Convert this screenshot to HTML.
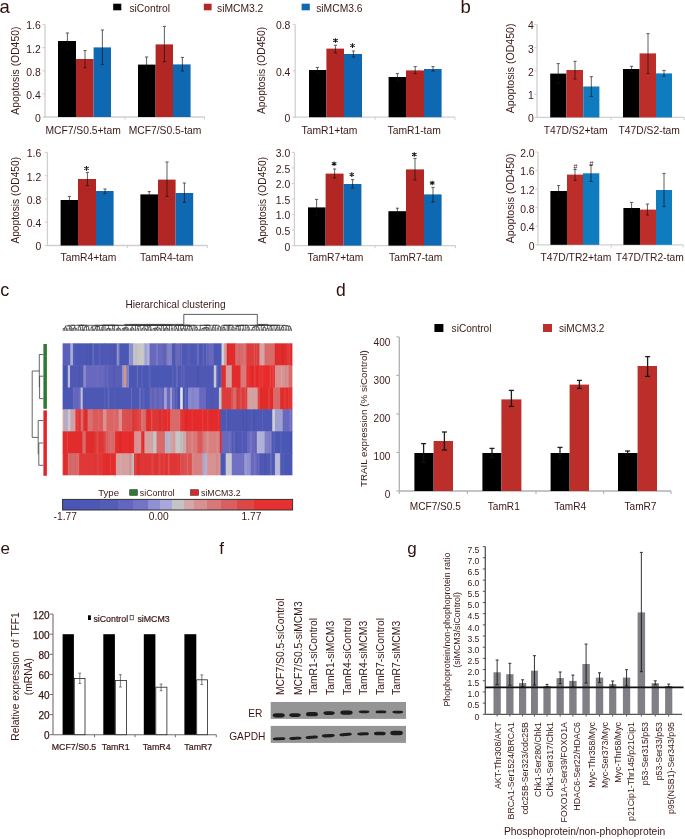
<!DOCTYPE html><html><head><meta charset="utf-8"><style>html,body{margin:0;padding:0;background:#fff;}svg{display:block;will-change:transform;font-family:"Liberation Sans",sans-serif;}</style></head><body><svg width="685" height="839" viewBox="0 0 685 839" font-family="Liberation Sans, sans-serif">
<rect width="685" height="839" fill="#fff"/>
<text x="-0.6" y="12.8" font-size="18.5" text-anchor="start" fill="#2e100c">a</text>
<text x="460.6" y="12.9" font-size="18.5" text-anchor="start" fill="#2e100c">b</text>
<rect x="113.2" y="3.7" width="8.1" height="6.6" fill="#000000"/>
<text x="129.4" y="11.5" font-size="10.3" text-anchor="start" fill="#3a1814">siControl</text>
<rect x="203.8" y="3.7" width="7.8" height="6.6" fill="#b22624"/>
<text x="217" y="11.5" font-size="10.3" text-anchor="start" fill="#3a1814">siMCM3.2</text>
<rect x="301.6" y="3.7" width="8.2" height="6.6" fill="#0e69b2"/>
<text x="316.2" y="11.5" font-size="10.3" text-anchor="start" fill="#3a1814">siMCM3.6</text>
<line x1="45" y1="24.5" x2="45" y2="117.5" stroke="#d0d0d0" stroke-width="1.3"/>
<line x1="44.5" y1="117" x2="204.5" y2="117" stroke="#d0d0d0" stroke-width="1.3"/>
<line x1="42.4" y1="24.5" x2="45" y2="24.5" stroke="#d0d0d0" stroke-width="1.1"/>
<text x="40.8" y="29.4" font-size="10.4" text-anchor="end" fill="#3a1814">1.6</text>
<line x1="42.4" y1="47.62" x2="45" y2="47.62" stroke="#d0d0d0" stroke-width="1.1"/>
<text x="40.8" y="52.52" font-size="10.4" text-anchor="end" fill="#3a1814">1.2</text>
<line x1="42.4" y1="70.75" x2="45" y2="70.75" stroke="#d0d0d0" stroke-width="1.1"/>
<text x="40.8" y="75.65" font-size="10.4" text-anchor="end" fill="#3a1814">0.8</text>
<line x1="42.4" y1="93.88" x2="45" y2="93.88" stroke="#d0d0d0" stroke-width="1.1"/>
<text x="40.8" y="98.78" font-size="10.4" text-anchor="end" fill="#3a1814">0.4</text>
<line x1="42.4" y1="117" x2="45" y2="117" stroke="#d0d0d0" stroke-width="1.1"/>
<text x="40.8" y="121.9" font-size="10.4" text-anchor="end" fill="#3a1814">0</text>
<line x1="125" y1="117" x2="125" y2="119.6" stroke="#d0d0d0" stroke-width="1.1"/>
<line x1="204.5" y1="117" x2="204.5" y2="119.6" stroke="#d0d0d0" stroke-width="1.1"/>
<rect x="58" y="41" width="18" height="76" fill="#000000"/>
<rect x="76" y="59" width="17.6" height="58" fill="#b22624"/>
<rect x="93.6" y="47.4" width="17.4" height="69.6" fill="#0e69b2"/>
<rect x="138" y="64.6" width="17.6" height="52.4" fill="#000000"/>
<rect x="155.6" y="44.4" width="17.4" height="72.6" fill="#b22624"/>
<rect x="173" y="64.4" width="17.6" height="52.6" fill="#0e69b2"/>
<g stroke="#111" stroke-width="0.9" opacity="0.75">
<line x1="67.4" y1="33" x2="67.4" y2="49"/>
<line x1="65.8" y1="33" x2="69" y2="33"/>
<line x1="65.8" y1="49" x2="69" y2="49"/>
</g>
<g stroke="#111" stroke-width="0.9" opacity="0.75">
<line x1="85" y1="50.6" x2="85" y2="67.6"/>
<line x1="83.4" y1="50.6" x2="86.6" y2="50.6"/>
<line x1="83.4" y1="67.6" x2="86.6" y2="67.6"/>
</g>
<g stroke="#111" stroke-width="0.9" opacity="0.75">
<line x1="102.4" y1="30" x2="102.4" y2="64.6"/>
<line x1="100.8" y1="30" x2="104" y2="30"/>
<line x1="100.8" y1="64.6" x2="104" y2="64.6"/>
</g>
<g stroke="#111" stroke-width="0.9" opacity="0.75">
<line x1="146.6" y1="57" x2="146.6" y2="72"/>
<line x1="145" y1="57" x2="148.2" y2="57"/>
<line x1="145" y1="72" x2="148.2" y2="72"/>
</g>
<g stroke="#111" stroke-width="0.9" opacity="0.75">
<line x1="164.4" y1="26.4" x2="164.4" y2="61.6"/>
<line x1="162.8" y1="26.4" x2="166" y2="26.4"/>
<line x1="162.8" y1="61.6" x2="166" y2="61.6"/>
</g>
<g stroke="#111" stroke-width="0.9" opacity="0.75">
<line x1="182.4" y1="57.4" x2="182.4" y2="71"/>
<line x1="180.8" y1="57.4" x2="184" y2="57.4"/>
<line x1="180.8" y1="71" x2="184" y2="71"/>
</g>
<text x="83.1" y="133.6" font-size="10.3" text-anchor="middle" fill="#3a1814">MCF7/S0.5+tam</text>
<text x="165" y="133.6" font-size="10.3" text-anchor="middle" fill="#3a1814">MCF7/S0.5-tam</text>
<text transform="translate(18.6 70.7) rotate(-90)" font-size="10.37" text-anchor="middle" fill="#3a1814">Apoptosis (OD450)</text>
<line x1="295.2" y1="24.4" x2="295.2" y2="117.7" stroke="#d0d0d0" stroke-width="1.3"/>
<line x1="294.7" y1="117.2" x2="455" y2="117.2" stroke="#d0d0d0" stroke-width="1.3"/>
<line x1="292.6" y1="24.4" x2="295.2" y2="24.4" stroke="#d0d0d0" stroke-width="1.1"/>
<text x="290.4" y="29.3" font-size="10.4" text-anchor="end" fill="#3a1814">0.8</text>
<line x1="292.6" y1="70.8" x2="295.2" y2="70.8" stroke="#d0d0d0" stroke-width="1.1"/>
<text x="290.4" y="75.7" font-size="10.4" text-anchor="end" fill="#3a1814">0.4</text>
<line x1="292.6" y1="117.2" x2="295.2" y2="117.2" stroke="#d0d0d0" stroke-width="1.1"/>
<text x="290.4" y="122.1" font-size="10.4" text-anchor="end" fill="#3a1814">0</text>
<line x1="375.2" y1="117.2" x2="375.2" y2="119.8" stroke="#d0d0d0" stroke-width="1.1"/>
<line x1="455" y1="117.2" x2="455" y2="119.8" stroke="#d0d0d0" stroke-width="1.1"/>
<rect x="309" y="70" width="17.4" height="47.2" fill="#000000"/>
<rect x="326.4" y="48.6" width="17.6" height="68.6" fill="#b22624"/>
<rect x="344" y="54" width="18" height="63.2" fill="#0e69b2"/>
<rect x="388.6" y="77" width="17.4" height="40.2" fill="#000000"/>
<rect x="406" y="70.4" width="18" height="46.8" fill="#b22624"/>
<rect x="424" y="69" width="17.6" height="48.2" fill="#0e69b2"/>
<g stroke="#111" stroke-width="0.9" opacity="0.75">
<line x1="317.4" y1="67.4" x2="317.4" y2="72.6"/>
<line x1="315.8" y1="67.4" x2="319" y2="67.4"/>
<line x1="315.8" y1="72.6" x2="319" y2="72.6"/>
</g>
<g stroke="#111" stroke-width="0.9" opacity="0.75">
<line x1="335.4" y1="45.2" x2="335.4" y2="52.8"/>
<line x1="333.8" y1="45.2" x2="337" y2="45.2"/>
<line x1="333.8" y1="52.8" x2="337" y2="52.8"/>
</g>
<g stroke="#111" stroke-width="0.9" opacity="0.75">
<line x1="353.4" y1="51" x2="353.4" y2="57"/>
<line x1="351.8" y1="51" x2="355" y2="51"/>
<line x1="351.8" y1="57" x2="355" y2="57"/>
</g>
<g stroke="#111" stroke-width="0.9" opacity="0.75">
<line x1="397.4" y1="73.6" x2="397.4" y2="80.4"/>
<line x1="395.8" y1="73.6" x2="399" y2="73.6"/>
<line x1="395.8" y1="80.4" x2="399" y2="80.4"/>
</g>
<g stroke="#111" stroke-width="0.9" opacity="0.75">
<line x1="415.2" y1="66.6" x2="415.2" y2="73.6"/>
<line x1="413.6" y1="66.6" x2="416.8" y2="66.6"/>
<line x1="413.6" y1="73.6" x2="416.8" y2="73.6"/>
</g>
<g stroke="#111" stroke-width="0.9" opacity="0.75">
<line x1="433" y1="66.6" x2="433" y2="71"/>
<line x1="431.4" y1="66.6" x2="434.6" y2="66.6"/>
<line x1="431.4" y1="71" x2="434.6" y2="71"/>
</g>
<text x="329.5" y="133.6" font-size="10.3" text-anchor="middle" fill="#3a1814">TamR1+tam</text>
<text x="414.2" y="133.6" font-size="10.3" text-anchor="middle" fill="#3a1814">TamR1-tam</text>
<text transform="translate(265.3 70.4) rotate(-90)" font-size="10.25" text-anchor="middle" fill="#3a1814">Apoptosis (OD450)</text>
<path d="M335.5 38.2V42.8M333.25 39.23L337.75 41.77M333.25 41.77L337.75 39.23" stroke="#151515" stroke-width="1.05" fill="none"/>
<path d="M352.5 43.3V47.9M350.25 44.34L354.75 46.87M350.25 46.87L354.75 44.34" stroke="#151515" stroke-width="1.05" fill="none"/>
<line x1="537" y1="24.4" x2="537" y2="117.9" stroke="#d0d0d0" stroke-width="1.3"/>
<line x1="536.5" y1="117.4" x2="684" y2="117.4" stroke="#d0d0d0" stroke-width="1.3"/>
<line x1="534.4" y1="24.4" x2="537" y2="24.4" stroke="#d0d0d0" stroke-width="1.1"/>
<text x="533.8" y="29.3" font-size="10.4" text-anchor="end" fill="#3a1814">4</text>
<line x1="534.4" y1="47.65" x2="537" y2="47.65" stroke="#d0d0d0" stroke-width="1.1"/>
<text x="533.8" y="52.55" font-size="10.4" text-anchor="end" fill="#3a1814">3</text>
<line x1="534.4" y1="70.9" x2="537" y2="70.9" stroke="#d0d0d0" stroke-width="1.1"/>
<text x="533.8" y="75.8" font-size="10.4" text-anchor="end" fill="#3a1814">2</text>
<line x1="534.4" y1="94.15" x2="537" y2="94.15" stroke="#d0d0d0" stroke-width="1.1"/>
<text x="533.8" y="99.05" font-size="10.4" text-anchor="end" fill="#3a1814">1</text>
<line x1="534.4" y1="117.4" x2="537" y2="117.4" stroke="#d0d0d0" stroke-width="1.1"/>
<text x="533.8" y="122.3" font-size="10.4" text-anchor="end" fill="#3a1814">0</text>
<line x1="611" y1="117.4" x2="611" y2="120" stroke="#d0d0d0" stroke-width="1.1"/>
<line x1="684" y1="117.4" x2="684" y2="120" stroke="#d0d0d0" stroke-width="1.1"/>
<rect x="550.2" y="73.6" width="16.2" height="43.8" fill="#000000"/>
<rect x="566.4" y="70" width="16.6" height="47.4" fill="#bd2e2a"/>
<rect x="583.2" y="86.5" width="16.2" height="30.9" fill="#0f7cc0"/>
<rect x="623" y="69" width="16.6" height="48.4" fill="#000000"/>
<rect x="639.6" y="53.4" width="16.4" height="64" fill="#bd2e2a"/>
<rect x="656" y="73.4" width="16" height="44" fill="#0f7cc0"/>
<g stroke="#111" stroke-width="0.9" opacity="0.75">
<line x1="558.2" y1="63.6" x2="558.2" y2="83.6"/>
<line x1="556.6" y1="63.6" x2="559.8" y2="63.6"/>
<line x1="556.6" y1="83.6" x2="559.8" y2="83.6"/>
</g>
<g stroke="#111" stroke-width="0.9" opacity="0.75">
<line x1="575" y1="61.3" x2="575" y2="79"/>
<line x1="573.4" y1="61.3" x2="576.6" y2="61.3"/>
<line x1="573.4" y1="79" x2="576.6" y2="79"/>
</g>
<g stroke="#111" stroke-width="0.9" opacity="0.75">
<line x1="591.3" y1="76.7" x2="591.3" y2="96.5"/>
<line x1="589.7" y1="76.7" x2="592.9" y2="76.7"/>
<line x1="589.7" y1="96.5" x2="592.9" y2="96.5"/>
</g>
<g stroke="#111" stroke-width="0.9" opacity="0.75">
<line x1="631.6" y1="66.3" x2="631.6" y2="72"/>
<line x1="630" y1="66.3" x2="633.2" y2="66.3"/>
<line x1="630" y1="72" x2="633.2" y2="72"/>
</g>
<g stroke="#111" stroke-width="0.9" opacity="0.75">
<line x1="648" y1="33.6" x2="648" y2="73.4"/>
<line x1="646.4" y1="33.6" x2="649.6" y2="33.6"/>
<line x1="646.4" y1="73.4" x2="649.6" y2="73.4"/>
</g>
<g stroke="#111" stroke-width="0.9" opacity="0.75">
<line x1="664" y1="70.4" x2="664" y2="76.2"/>
<line x1="662.4" y1="70.4" x2="665.6" y2="70.4"/>
<line x1="662.4" y1="76.2" x2="665.6" y2="76.2"/>
</g>
<text x="575.7" y="133.6" font-size="10.3" text-anchor="middle" fill="#3a1814">T47D/S2+tam</text>
<text x="649.2" y="133.6" font-size="10.3" text-anchor="middle" fill="#3a1814">T47D/S2-tam</text>
<text transform="translate(513.7 68.4) rotate(-90)" font-size="10.56" text-anchor="middle" fill="#3a1814">Apoptosis (OD450)</text>
<line x1="47.4" y1="152.4" x2="47.4" y2="246" stroke="#d0d0d0" stroke-width="1.3"/>
<line x1="46.9" y1="245.5" x2="207.4" y2="245.5" stroke="#d0d0d0" stroke-width="1.3"/>
<line x1="44.8" y1="152.4" x2="47.4" y2="152.4" stroke="#d0d0d0" stroke-width="1.1"/>
<text x="41.2" y="157.3" font-size="10.4" text-anchor="end" fill="#3a1814">1.6</text>
<line x1="44.8" y1="175.68" x2="47.4" y2="175.68" stroke="#d0d0d0" stroke-width="1.1"/>
<text x="41.2" y="180.58" font-size="10.4" text-anchor="end" fill="#3a1814">1.2</text>
<line x1="44.8" y1="198.95" x2="47.4" y2="198.95" stroke="#d0d0d0" stroke-width="1.1"/>
<text x="41.2" y="203.85" font-size="10.4" text-anchor="end" fill="#3a1814">0.8</text>
<line x1="44.8" y1="222.22" x2="47.4" y2="222.22" stroke="#d0d0d0" stroke-width="1.1"/>
<text x="41.2" y="227.12" font-size="10.4" text-anchor="end" fill="#3a1814">0.4</text>
<line x1="44.8" y1="245.5" x2="47.4" y2="245.5" stroke="#d0d0d0" stroke-width="1.1"/>
<text x="41.2" y="250.4" font-size="10.4" text-anchor="end" fill="#3a1814">0</text>
<line x1="127.4" y1="245.5" x2="127.4" y2="248.1" stroke="#d0d0d0" stroke-width="1.1"/>
<line x1="207.4" y1="245.5" x2="207.4" y2="248.1" stroke="#d0d0d0" stroke-width="1.1"/>
<rect x="60.6" y="200" width="17.4" height="45.5" fill="#000000"/>
<rect x="78" y="179" width="18" height="66.5" fill="#b22624"/>
<rect x="96" y="191" width="17.6" height="54.5" fill="#0e69b2"/>
<rect x="140.4" y="194.4" width="17.6" height="51.1" fill="#000000"/>
<rect x="158" y="179.6" width="17.6" height="65.9" fill="#b22624"/>
<rect x="175.6" y="193" width="17.6" height="52.5" fill="#0e69b2"/>
<g stroke="#111" stroke-width="0.9" opacity="0.75">
<line x1="69.4" y1="196.4" x2="69.4" y2="203.6"/>
<line x1="67.8" y1="196.4" x2="71" y2="196.4"/>
<line x1="67.8" y1="203.6" x2="71" y2="203.6"/>
</g>
<g stroke="#111" stroke-width="0.9" opacity="0.75">
<line x1="87.4" y1="172.4" x2="87.4" y2="185.6"/>
<line x1="85.8" y1="172.4" x2="89" y2="172.4"/>
<line x1="85.8" y1="185.6" x2="89" y2="185.6"/>
</g>
<g stroke="#111" stroke-width="0.9" opacity="0.75">
<line x1="105" y1="189" x2="105" y2="193.6"/>
<line x1="103.4" y1="189" x2="106.6" y2="189"/>
<line x1="103.4" y1="193.6" x2="106.6" y2="193.6"/>
</g>
<g stroke="#111" stroke-width="0.9" opacity="0.75">
<line x1="149.2" y1="191.6" x2="149.2" y2="197"/>
<line x1="147.6" y1="191.6" x2="150.8" y2="191.6"/>
<line x1="147.6" y1="197" x2="150.8" y2="197"/>
</g>
<g stroke="#111" stroke-width="0.9" opacity="0.75">
<line x1="167" y1="162" x2="167" y2="196.4"/>
<line x1="165.4" y1="162" x2="168.6" y2="162"/>
<line x1="165.4" y1="196.4" x2="168.6" y2="196.4"/>
</g>
<g stroke="#111" stroke-width="0.9" opacity="0.75">
<line x1="184.4" y1="183" x2="184.4" y2="202.4"/>
<line x1="182.8" y1="183" x2="186" y2="183"/>
<line x1="182.8" y1="202.4" x2="186" y2="202.4"/>
</g>
<text x="88.5" y="260.6" font-size="10.3" text-anchor="middle" fill="#3a1814">TamR4+tam</text>
<text x="166.7" y="260.6" font-size="10.3" text-anchor="middle" fill="#3a1814">TamR4-tam</text>
<text transform="translate(18.6 200.3) rotate(-90)" font-size="10.2" text-anchor="middle" fill="#3a1814">Apoptosis (OD450)</text>
<path d="M86.5 166.1V170.7M84.25 167.14L88.75 169.66M84.25 169.66L88.75 167.14" stroke="#151515" stroke-width="1.05" fill="none"/>
<line x1="294.4" y1="152.4" x2="294.4" y2="246.1" stroke="#d0d0d0" stroke-width="1.3"/>
<line x1="293.9" y1="245.6" x2="455.4" y2="245.6" stroke="#d0d0d0" stroke-width="1.3"/>
<line x1="291.8" y1="152.4" x2="294.4" y2="152.4" stroke="#d0d0d0" stroke-width="1.1"/>
<text x="290.2" y="157.3" font-size="10.4" text-anchor="end" fill="#3a1814">3.0</text>
<line x1="291.8" y1="167.93" x2="294.4" y2="167.93" stroke="#d0d0d0" stroke-width="1.1"/>
<text x="290.2" y="172.83" font-size="10.4" text-anchor="end" fill="#3a1814">2.5</text>
<line x1="291.8" y1="183.47" x2="294.4" y2="183.47" stroke="#d0d0d0" stroke-width="1.1"/>
<text x="290.2" y="188.37" font-size="10.4" text-anchor="end" fill="#3a1814">2.0</text>
<line x1="291.8" y1="199" x2="294.4" y2="199" stroke="#d0d0d0" stroke-width="1.1"/>
<text x="290.2" y="203.9" font-size="10.4" text-anchor="end" fill="#3a1814">1.5</text>
<line x1="291.8" y1="214.53" x2="294.4" y2="214.53" stroke="#d0d0d0" stroke-width="1.1"/>
<text x="290.2" y="219.43" font-size="10.4" text-anchor="end" fill="#3a1814">1.0</text>
<line x1="291.8" y1="230.07" x2="294.4" y2="230.07" stroke="#d0d0d0" stroke-width="1.1"/>
<text x="290.2" y="234.97" font-size="10.4" text-anchor="end" fill="#3a1814">0.5</text>
<line x1="291.8" y1="245.6" x2="294.4" y2="245.6" stroke="#d0d0d0" stroke-width="1.1"/>
<text x="290.2" y="250.5" font-size="10.4" text-anchor="end" fill="#3a1814">0</text>
<line x1="375" y1="245.6" x2="375" y2="248.2" stroke="#d0d0d0" stroke-width="1.1"/>
<line x1="455.4" y1="245.6" x2="455.4" y2="248.2" stroke="#d0d0d0" stroke-width="1.1"/>
<rect x="308" y="207.4" width="17.6" height="38.2" fill="#000000"/>
<rect x="325.6" y="173.6" width="18" height="72" fill="#b22624"/>
<rect x="343.6" y="184" width="17.8" height="61.6" fill="#0e69b2"/>
<rect x="388.4" y="211.2" width="17.6" height="34.4" fill="#000000"/>
<rect x="406" y="169.4" width="18" height="76.2" fill="#b22624"/>
<rect x="424" y="194.4" width="17.6" height="51.2" fill="#0e69b2"/>
<g stroke="#111" stroke-width="0.9" opacity="0.75">
<line x1="316.6" y1="199.4" x2="316.6" y2="215.4"/>
<line x1="315" y1="199.4" x2="318.2" y2="199.4"/>
<line x1="315" y1="215.4" x2="318.2" y2="215.4"/>
</g>
<g stroke="#111" stroke-width="0.9" opacity="0.75">
<line x1="334.6" y1="169" x2="334.6" y2="178"/>
<line x1="333" y1="169" x2="336.2" y2="169"/>
<line x1="333" y1="178" x2="336.2" y2="178"/>
</g>
<g stroke="#111" stroke-width="0.9" opacity="0.75">
<line x1="352.6" y1="179.6" x2="352.6" y2="188"/>
<line x1="351" y1="179.6" x2="354.2" y2="179.6"/>
<line x1="351" y1="188" x2="354.2" y2="188"/>
</g>
<g stroke="#111" stroke-width="0.9" opacity="0.75">
<line x1="397.4" y1="208.2" x2="397.4" y2="214"/>
<line x1="395.8" y1="208.2" x2="399" y2="208.2"/>
<line x1="395.8" y1="214" x2="399" y2="214"/>
</g>
<g stroke="#111" stroke-width="0.9" opacity="0.75">
<line x1="415" y1="158.4" x2="415" y2="180"/>
<line x1="413.4" y1="158.4" x2="416.6" y2="158.4"/>
<line x1="413.4" y1="180" x2="416.6" y2="180"/>
</g>
<g stroke="#111" stroke-width="0.9" opacity="0.75">
<line x1="433" y1="187.4" x2="433" y2="202"/>
<line x1="431.4" y1="187.4" x2="434.6" y2="187.4"/>
<line x1="431.4" y1="202" x2="434.6" y2="202"/>
</g>
<text x="335.5" y="260.6" font-size="10.3" text-anchor="middle" fill="#3a1814">TamR7+tam</text>
<text x="415.7" y="260.6" font-size="10.3" text-anchor="middle" fill="#3a1814">TamR7-tam</text>
<text transform="translate(266 200.3) rotate(-90)" font-size="10.2" text-anchor="middle" fill="#3a1814">Apoptosis (OD450)</text>
<path d="M334.1 161.5V166.1M331.85 162.54L336.35 165.06M331.85 165.06L336.35 162.54" stroke="#151515" stroke-width="1.05" fill="none"/>
<path d="M351.8 172.3V176.9M349.55 173.34L354.05 175.86M349.55 175.86L354.05 173.34" stroke="#151515" stroke-width="1.05" fill="none"/>
<path d="M414.3 152.2V156.8M412.05 153.24L416.55 155.76M412.05 155.76L416.55 153.24" stroke="#151515" stroke-width="1.05" fill="none"/>
<path d="M432.2 180.7V185.3M429.95 181.74L434.45 184.26M429.95 184.26L434.45 181.74" stroke="#151515" stroke-width="1.05" fill="none"/>
<line x1="538" y1="152" x2="538" y2="245.3" stroke="#d0d0d0" stroke-width="1.3"/>
<line x1="537.5" y1="244.8" x2="683" y2="244.8" stroke="#d0d0d0" stroke-width="1.3"/>
<line x1="535.4" y1="152" x2="538" y2="152" stroke="#d0d0d0" stroke-width="1.1"/>
<text x="534.6" y="156.9" font-size="10.4" text-anchor="end" fill="#3a1814">2.0</text>
<line x1="535.4" y1="170.56" x2="538" y2="170.56" stroke="#d0d0d0" stroke-width="1.1"/>
<text x="534.6" y="175.46" font-size="10.4" text-anchor="end" fill="#3a1814">1.6</text>
<line x1="535.4" y1="189.12" x2="538" y2="189.12" stroke="#d0d0d0" stroke-width="1.1"/>
<text x="534.6" y="194.02" font-size="10.4" text-anchor="end" fill="#3a1814">1.2</text>
<line x1="535.4" y1="207.68" x2="538" y2="207.68" stroke="#d0d0d0" stroke-width="1.1"/>
<text x="534.6" y="212.58" font-size="10.4" text-anchor="end" fill="#3a1814">0.8</text>
<line x1="535.4" y1="226.24" x2="538" y2="226.24" stroke="#d0d0d0" stroke-width="1.1"/>
<text x="534.6" y="231.14" font-size="10.4" text-anchor="end" fill="#3a1814">0.4</text>
<line x1="535.4" y1="244.8" x2="538" y2="244.8" stroke="#d0d0d0" stroke-width="1.1"/>
<text x="534.6" y="249.7" font-size="10.4" text-anchor="end" fill="#3a1814">0</text>
<line x1="611.3" y1="244.8" x2="611.3" y2="247.4" stroke="#d0d0d0" stroke-width="1.1"/>
<line x1="683" y1="244.8" x2="683" y2="247.4" stroke="#d0d0d0" stroke-width="1.1"/>
<rect x="550.4" y="191" width="16.6" height="53.8" fill="#000000"/>
<rect x="567" y="174.6" width="16" height="70.2" fill="#bd2e2a"/>
<rect x="583" y="173.3" width="16.3" height="71.5" fill="#0f7cc0"/>
<rect x="623.4" y="208" width="16.6" height="36.8" fill="#000000"/>
<rect x="640" y="209.6" width="16" height="35.2" fill="#bd2e2a"/>
<rect x="656" y="190" width="16" height="54.8" fill="#0f7cc0"/>
<g stroke="#111" stroke-width="0.9" opacity="0.75">
<line x1="558.6" y1="185.6" x2="558.6" y2="196.4"/>
<line x1="557" y1="185.6" x2="560.2" y2="185.6"/>
<line x1="557" y1="196.4" x2="560.2" y2="196.4"/>
</g>
<g stroke="#111" stroke-width="0.9" opacity="0.75">
<line x1="575" y1="169.5" x2="575" y2="180.3"/>
<line x1="573.4" y1="169.5" x2="576.6" y2="169.5"/>
<line x1="573.4" y1="180.3" x2="576.6" y2="180.3"/>
</g>
<g stroke="#111" stroke-width="0.9" opacity="0.75">
<line x1="591" y1="165.5" x2="591" y2="181.5"/>
<line x1="589.4" y1="165.5" x2="592.6" y2="165.5"/>
<line x1="589.4" y1="181.5" x2="592.6" y2="181.5"/>
</g>
<g stroke="#111" stroke-width="0.9" opacity="0.75">
<line x1="631.6" y1="202.4" x2="631.6" y2="213.6"/>
<line x1="630" y1="202.4" x2="633.2" y2="202.4"/>
<line x1="630" y1="213.6" x2="633.2" y2="213.6"/>
</g>
<g stroke="#111" stroke-width="0.9" opacity="0.75">
<line x1="647.4" y1="204" x2="647.4" y2="215"/>
<line x1="645.8" y1="204" x2="649" y2="204"/>
<line x1="645.8" y1="215" x2="649" y2="215"/>
</g>
<g stroke="#111" stroke-width="0.9" opacity="0.75">
<line x1="664" y1="173.4" x2="664" y2="206.4"/>
<line x1="662.4" y1="173.4" x2="665.6" y2="173.4"/>
<line x1="662.4" y1="206.4" x2="665.6" y2="206.4"/>
</g>
<text x="575.9" y="260.6" font-size="10.3" text-anchor="middle" fill="#3a1814">T47D/TR2+tam</text>
<text x="649.8" y="260.6" font-size="10.3" text-anchor="middle" fill="#3a1814">T47D/TR2-tam</text>
<text transform="translate(513.7 198.4) rotate(-90)" font-size="10.56" text-anchor="middle" fill="#3a1814">Apoptosis (OD450)</text>
<text x="575.4" y="169.3" font-size="7" text-anchor="middle" fill="#3a1814">#</text>
<text x="591.5" y="165.6" font-size="7" text-anchor="middle" fill="#3a1814">#</text>
<text x="0.2" y="295.8" font-size="18" text-anchor="start" fill="#2e100c">c</text>
<text x="125.4" y="307.6" font-size="10.2" text-anchor="start" fill="#3a1814">Hierarchical clustering</text>
<rect x="62.6" y="343.3" width="8.3" height="22.6" fill="#5a5fba"/>
<rect x="70.3" y="343.3" width="3.2" height="22.6" fill="#a8acd8"/>
<rect x="72.9" y="343.3" width="18.7" height="22.6" fill="#4b57b4"/>
<rect x="91" y="343.3" width="13.6" height="22.6" fill="#4d58b5"/>
<rect x="104" y="343.3" width="13.4" height="22.6" fill="#5058b5"/>
<rect x="116.8" y="343.3" width="3.2" height="22.6" fill="#8084c8"/>
<rect x="119.4" y="343.3" width="10.1" height="22.6" fill="#4b57b4"/>
<rect x="128.9" y="343.3" width="4.9" height="22.6" fill="#8a8dd0"/>
<rect x="133.2" y="343.3" width="11.8" height="22.6" fill="#c6c6c6"/>
<rect x="144.4" y="343.3" width="3.2" height="22.6" fill="#a0a4d4"/>
<rect x="147" y="343.3" width="3.2" height="22.6" fill="#b0b0d8"/>
<rect x="149.6" y="343.3" width="17.8" height="22.6" fill="#6868be"/>
<rect x="166.8" y="343.3" width="5.8" height="22.6" fill="#8080c8"/>
<rect x="172" y="343.3" width="3.6" height="22.6" fill="#5058b5"/>
<rect x="175" y="343.3" width="5.8" height="22.6" fill="#6868be"/>
<rect x="180.2" y="343.3" width="26.4" height="22.6" fill="#5058b5"/>
<rect x="206" y="343.3" width="8.4" height="22.6" fill="#6868be"/>
<rect x="213.8" y="343.3" width="8.3" height="22.6" fill="#4b57b4"/>
<rect x="221.5" y="343.3" width="3.2" height="22.6" fill="#d4d4dc"/>
<rect x="224.1" y="343.3" width="3.2" height="22.6" fill="#d4a0a0"/>
<rect x="226.7" y="343.3" width="9.2" height="22.6" fill="#e22c2c"/>
<rect x="235.3" y="343.3" width="11.8" height="22.6" fill="#d86a6a"/>
<rect x="246.5" y="343.3" width="13.5" height="22.6" fill="#dc3c3c"/>
<rect x="259.4" y="343.3" width="5.8" height="22.6" fill="#d4a0a0"/>
<rect x="264.6" y="343.3" width="10.9" height="22.6" fill="#d86a6a"/>
<rect x="274.9" y="343.3" width="17.5" height="22.6" fill="#e22c2c"/>
<rect x="62.6" y="365.3" width="5.8" height="22.8" fill="#4b57b4"/>
<rect x="67.8" y="365.3" width="2.8" height="22.8" fill="#b8bcd8"/>
<rect x="70" y="365.3" width="13.9" height="22.8" fill="#5058b5"/>
<rect x="83.3" y="365.3" width="3.1" height="22.8" fill="#8c8ccc"/>
<rect x="85.8" y="365.3" width="19.6" height="22.8" fill="#6868be"/>
<rect x="104.8" y="365.3" width="17.8" height="22.8" fill="#5a5eb9"/>
<rect x="122" y="365.3" width="2.3" height="22.8" fill="#9090d0"/>
<rect x="123.7" y="365.3" width="3.2" height="22.8" fill="#d49680"/>
<rect x="126.3" y="365.3" width="3.2" height="22.8" fill="#7a7ac4"/>
<rect x="128.9" y="365.3" width="46.7" height="22.8" fill="#4b57b4"/>
<rect x="175" y="365.3" width="39.4" height="22.8" fill="#5058b5"/>
<rect x="213.8" y="365.3" width="3.1" height="22.8" fill="#c8c8d8"/>
<rect x="216.3" y="365.3" width="5.8" height="22.8" fill="#4b57b4"/>
<rect x="221.5" y="365.3" width="4.9" height="22.8" fill="#e22c2c"/>
<rect x="225.8" y="365.3" width="6.6" height="22.8" fill="#d4a0a0"/>
<rect x="231.8" y="365.3" width="9.3" height="22.8" fill="#e22c2c"/>
<rect x="240.5" y="365.3" width="6.6" height="22.8" fill="#d87878"/>
<rect x="246.5" y="365.3" width="29" height="22.8" fill="#e82c2c"/>
<rect x="274.9" y="365.3" width="14.4" height="22.8" fill="#d89090"/>
<rect x="288.7" y="365.3" width="3.7" height="22.8" fill="#d86a6a"/>
<rect x="62.6" y="387.5" width="10.9" height="22.4" fill="#4b57b4"/>
<rect x="72.9" y="387.5" width="8.4" height="22.4" fill="#6565be"/>
<rect x="80.7" y="387.5" width="2.6" height="22.4" fill="#c0c0d8"/>
<rect x="82.7" y="387.5" width="67.5" height="22.4" fill="#4d58b5"/>
<rect x="149.6" y="387.5" width="15.2" height="22.4" fill="#6868be"/>
<rect x="164.2" y="387.5" width="3.2" height="22.4" fill="#a0a0d4"/>
<rect x="166.8" y="387.5" width="4" height="22.4" fill="#6868be"/>
<rect x="170.2" y="387.5" width="2.4" height="22.4" fill="#a0a0d4"/>
<rect x="172" y="387.5" width="3.6" height="22.4" fill="#6868be"/>
<rect x="175" y="387.5" width="5.8" height="22.4" fill="#4b57b4"/>
<rect x="180.2" y="387.5" width="3.2" height="22.4" fill="#e0e0e8"/>
<rect x="182.8" y="387.5" width="5.7" height="22.4" fill="#4b57b4"/>
<rect x="187.9" y="387.5" width="11.8" height="22.4" fill="#8888d0"/>
<rect x="199.1" y="387.5" width="7.5" height="22.4" fill="#6868be"/>
<rect x="206" y="387.5" width="13.5" height="22.4" fill="#5058b5"/>
<rect x="218.9" y="387.5" width="3.2" height="22.4" fill="#c6c6c6"/>
<rect x="221.5" y="387.5" width="12.1" height="22.4" fill="#dc3c3c"/>
<rect x="233" y="387.5" width="4.1" height="22.4" fill="#d86a6a"/>
<rect x="236.5" y="387.5" width="11.4" height="22.4" fill="#dc3c3c"/>
<rect x="247.3" y="387.5" width="11" height="22.4" fill="#d4a0a0"/>
<rect x="257.7" y="387.5" width="16.1" height="22.4" fill="#e22c2c"/>
<rect x="273.2" y="387.5" width="7.5" height="22.4" fill="#d86a6a"/>
<rect x="280.1" y="387.5" width="12.3" height="22.4" fill="#e22c2c"/>
<rect x="62.6" y="409.3" width="3.2" height="22.6" fill="#d0a0a0"/>
<rect x="65.2" y="409.3" width="3.2" height="22.6" fill="#a8acd8"/>
<rect x="67.8" y="409.3" width="3.1" height="22.6" fill="#c8c8c8"/>
<rect x="70.3" y="409.3" width="5.8" height="22.6" fill="#d0a0a8"/>
<rect x="75.5" y="409.3" width="5.8" height="22.6" fill="#e03030"/>
<rect x="80.7" y="409.3" width="3.2" height="22.6" fill="#d86a6a"/>
<rect x="83.3" y="409.3" width="4.9" height="22.6" fill="#e22c2c"/>
<rect x="87.6" y="409.3" width="5.7" height="22.6" fill="#d87070"/>
<rect x="92.7" y="409.3" width="10.9" height="22.6" fill="#dc5a5a"/>
<rect x="103" y="409.3" width="4.1" height="22.6" fill="#d89090"/>
<rect x="106.5" y="409.3" width="12.7" height="22.6" fill="#dc6464"/>
<rect x="118.6" y="409.3" width="4" height="22.6" fill="#d89090"/>
<rect x="122" y="409.3" width="11" height="22.6" fill="#dc5050"/>
<rect x="132.4" y="409.3" width="9.2" height="22.6" fill="#e03a3a"/>
<rect x="141" y="409.3" width="5.7" height="22.6" fill="#d86a6a"/>
<rect x="146.1" y="409.3" width="5.8" height="22.6" fill="#e22c2c"/>
<rect x="151.3" y="409.3" width="12.7" height="22.6" fill="#e03535"/>
<rect x="163.4" y="409.3" width="7.4" height="22.6" fill="#e82a2a"/>
<rect x="170.2" y="409.3" width="10.6" height="22.6" fill="#d86a6a"/>
<rect x="180.2" y="409.3" width="41" height="22.6" fill="#e42a2a"/>
<rect x="220.6" y="409.3" width="52.3" height="22.6" fill="#4d58b5"/>
<rect x="272.3" y="409.3" width="3.2" height="22.6" fill="#d0d0d8"/>
<rect x="274.9" y="409.3" width="8.4" height="22.6" fill="#a0a0d0"/>
<rect x="282.7" y="409.3" width="9.7" height="22.6" fill="#6868be"/>
<rect x="62.6" y="431.3" width="20.4" height="22.6" fill="#e22c2c"/>
<rect x="82.4" y="431.3" width="4" height="22.6" fill="#d86a6a"/>
<rect x="85.8" y="431.3" width="7.5" height="22.6" fill="#e22c2c"/>
<rect x="92.7" y="431.3" width="13.5" height="22.6" fill="#e03535"/>
<rect x="105.6" y="431.3" width="10.1" height="22.6" fill="#d86868"/>
<rect x="115.1" y="431.3" width="19.6" height="22.6" fill="#e62c2c"/>
<rect x="134.1" y="431.3" width="7.5" height="22.6" fill="#d89090"/>
<rect x="141" y="431.3" width="4" height="22.6" fill="#e22c2c"/>
<rect x="144.4" y="431.3" width="9.2" height="22.6" fill="#d4a0a0"/>
<rect x="153" y="431.3" width="4.1" height="22.6" fill="#c6c6c6"/>
<rect x="156.5" y="431.3" width="9.2" height="22.6" fill="#d86a6a"/>
<rect x="165.1" y="431.3" width="5.7" height="22.6" fill="#b4b4cc"/>
<rect x="170.2" y="431.3" width="5.8" height="22.6" fill="#d4a0a0"/>
<rect x="175.4" y="431.3" width="8" height="22.6" fill="#c6c6c6"/>
<rect x="182.8" y="431.3" width="4" height="22.6" fill="#d0a8a8"/>
<rect x="186.2" y="431.3" width="11.8" height="22.6" fill="#d87878"/>
<rect x="197.4" y="431.3" width="5.8" height="22.6" fill="#dc5a5a"/>
<rect x="202.6" y="431.3" width="17.8" height="22.6" fill="#d88080"/>
<rect x="219.8" y="431.3" width="2.3" height="22.6" fill="#e22c2c"/>
<rect x="221.5" y="431.3" width="10.9" height="22.6" fill="#6868be"/>
<rect x="231.8" y="431.3" width="16.1" height="22.6" fill="#5058b5"/>
<rect x="247.3" y="431.3" width="10.1" height="22.6" fill="#6868be"/>
<rect x="256.8" y="431.3" width="8.4" height="22.6" fill="#b0b0d8"/>
<rect x="264.6" y="431.3" width="7.5" height="22.6" fill="#8080c8"/>
<rect x="271.5" y="431.3" width="20.9" height="22.6" fill="#4b57b4"/>
<rect x="62.6" y="453.3" width="5.8" height="22" fill="#e22c2c"/>
<rect x="67.8" y="453.3" width="11.8" height="22" fill="#d86a6a"/>
<rect x="79" y="453.3" width="24.6" height="22" fill="#e03838"/>
<rect x="103" y="453.3" width="13.6" height="22" fill="#e52c2c"/>
<rect x="116" y="453.3" width="17" height="22" fill="#d4a0a0"/>
<rect x="132.4" y="453.3" width="2.2" height="22" fill="#c6c6c6"/>
<rect x="134" y="453.3" width="46.8" height="22" fill="#e03535"/>
<rect x="180.2" y="453.3" width="12.6" height="22" fill="#dc5050"/>
<rect x="192.2" y="453.3" width="11" height="22" fill="#d88080"/>
<rect x="202.6" y="453.3" width="4.9" height="22" fill="#b0b0d8"/>
<rect x="206.9" y="453.3" width="14.3" height="22" fill="#d89090"/>
<rect x="220.6" y="453.3" width="5.8" height="22" fill="#4b57b4"/>
<rect x="225.8" y="453.3" width="6.6" height="22" fill="#c8c8d0"/>
<rect x="231.8" y="453.3" width="12.7" height="22" fill="#7070c4"/>
<rect x="243.9" y="453.3" width="7.5" height="22" fill="#9090d0"/>
<rect x="250.8" y="453.3" width="9.2" height="22" fill="#6868be"/>
<rect x="259.4" y="453.3" width="16.1" height="22" fill="#5058b5"/>
<rect x="274.9" y="453.3" width="5.8" height="22" fill="#b8b8d8"/>
<rect x="280.1" y="453.3" width="12.3" height="22" fill="#4b57b4"/>
<rect x="71.8" y="343.3" width="1" height="22" fill="#fff" opacity="0.107"/>
<rect x="73.8" y="343.3" width="0.8" height="22" fill="#fff" opacity="0.098"/>
<rect x="86.4" y="343.3" width="0.8" height="22" fill="#000" opacity="0.054"/>
<rect x="89.7" y="343.3" width="1.3" height="22" fill="#000" opacity="0.051"/>
<rect x="92.5" y="343.3" width="1.6" height="22" fill="#fff" opacity="0.109"/>
<rect x="99.1" y="343.3" width="1.3" height="22" fill="#fff" opacity="0.076"/>
<rect x="110" y="343.3" width="1" height="22" fill="#000" opacity="0.049"/>
<rect x="113.5" y="343.3" width="1.6" height="22" fill="#000" opacity="0.061"/>
<rect x="116.6" y="343.3" width="1.3" height="22" fill="#fff" opacity="0.137"/>
<rect x="118.4" y="343.3" width="1" height="22" fill="#fff" opacity="0.055"/>
<rect x="128.6" y="343.3" width="1.6" height="22" fill="#fff" opacity="0.074"/>
<rect x="135.5" y="343.3" width="1" height="22" fill="#000" opacity="0.054"/>
<rect x="140" y="343.3" width="0.8" height="22" fill="#fff" opacity="0.090"/>
<rect x="141.3" y="343.3" width="2" height="22" fill="#fff" opacity="0.057"/>
<rect x="156.2" y="343.3" width="1.6" height="22" fill="#fff" opacity="0.132"/>
<rect x="163.3" y="343.3" width="2" height="22" fill="#000" opacity="0.065"/>
<rect x="168.8" y="343.3" width="0.8" height="22" fill="#fff" opacity="0.053"/>
<rect x="174.6" y="343.3" width="1.3" height="22" fill="#000" opacity="0.050"/>
<rect x="180.9" y="343.3" width="1" height="22" fill="#fff" opacity="0.127"/>
<rect x="185.4" y="343.3" width="0.8" height="22" fill="#000" opacity="0.038"/>
<rect x="186.7" y="343.3" width="0.8" height="22" fill="#fff" opacity="0.055"/>
<rect x="188.5" y="343.3" width="1.3" height="22" fill="#fff" opacity="0.062"/>
<rect x="196.8" y="343.3" width="2" height="22" fill="#fff" opacity="0.132"/>
<rect x="200.3" y="343.3" width="0.8" height="22" fill="#000" opacity="0.049"/>
<rect x="202.6" y="343.3" width="1.3" height="22" fill="#fff" opacity="0.091"/>
<rect x="207.2" y="343.3" width="1.3" height="22" fill="#000" opacity="0.066"/>
<rect x="223.7" y="343.3" width="0.8" height="22" fill="#000" opacity="0.070"/>
<rect x="227" y="343.3" width="1.3" height="22" fill="#000" opacity="0.053"/>
<rect x="239.2" y="343.3" width="0.8" height="22" fill="#000" opacity="0.050"/>
<rect x="243.5" y="343.3" width="1.6" height="22" fill="#fff" opacity="0.077"/>
<rect x="253.7" y="343.3" width="1.3" height="22" fill="#fff" opacity="0.107"/>
<rect x="256" y="343.3" width="1" height="22" fill="#fff" opacity="0.078"/>
<rect x="261.8" y="343.3" width="1" height="22" fill="#fff" opacity="0.133"/>
<rect x="274.2" y="343.3" width="1.6" height="22" fill="#000" opacity="0.041"/>
<rect x="281.6" y="343.3" width="2" height="22" fill="#000" opacity="0.053"/>
<rect x="286.7" y="343.3" width="1.3" height="22" fill="#fff" opacity="0.054"/>
<rect x="288.5" y="343.3" width="1.6" height="22" fill="#fff" opacity="0.108"/>
<rect x="64.4" y="365.3" width="1.6" height="22.2" fill="#000" opacity="0.060"/>
<rect x="69.5" y="365.3" width="0.8" height="22.2" fill="#fff" opacity="0.081"/>
<rect x="79.4" y="365.3" width="0.8" height="22.2" fill="#000" opacity="0.046"/>
<rect x="82.7" y="365.3" width="1.6" height="22.2" fill="#000" opacity="0.030"/>
<rect x="96.9" y="365.3" width="1" height="22.2" fill="#fff" opacity="0.058"/>
<rect x="106.5" y="365.3" width="1.6" height="22.2" fill="#fff" opacity="0.075"/>
<rect x="112.7" y="365.3" width="2" height="22.2" fill="#000" opacity="0.036"/>
<rect x="127.8" y="365.3" width="1" height="22.2" fill="#fff" opacity="0.125"/>
<rect x="136.8" y="365.3" width="1.3" height="22.2" fill="#fff" opacity="0.126"/>
<rect x="141.6" y="365.3" width="1" height="22.2" fill="#fff" opacity="0.099"/>
<rect x="148.6" y="365.3" width="2" height="22.2" fill="#fff" opacity="0.084"/>
<rect x="172.1" y="365.3" width="1.3" height="22.2" fill="#fff" opacity="0.081"/>
<rect x="175.9" y="365.3" width="2" height="22.2" fill="#fff" opacity="0.106"/>
<rect x="180.9" y="365.3" width="0.8" height="22.2" fill="#fff" opacity="0.112"/>
<rect x="183.2" y="365.3" width="1.3" height="22.2" fill="#fff" opacity="0.095"/>
<rect x="197.1" y="365.3" width="1.6" height="22.2" fill="#000" opacity="0.063"/>
<rect x="216.7" y="365.3" width="1" height="22.2" fill="#fff" opacity="0.133"/>
<rect x="220.7" y="365.3" width="1" height="22.2" fill="#fff" opacity="0.085"/>
<rect x="226.8" y="365.3" width="1" height="22.2" fill="#000" opacity="0.031"/>
<rect x="247.7" y="365.3" width="1" height="22.2" fill="#fff" opacity="0.066"/>
<rect x="251.5" y="365.3" width="2" height="22.2" fill="#000" opacity="0.048"/>
<rect x="254" y="365.3" width="1.3" height="22.2" fill="#fff" opacity="0.082"/>
<rect x="256.3" y="365.3" width="2" height="22.2" fill="#000" opacity="0.032"/>
<rect x="259.3" y="365.3" width="1" height="22.2" fill="#fff" opacity="0.083"/>
<rect x="261.3" y="365.3" width="2" height="22.2" fill="#fff" opacity="0.051"/>
<rect x="269.9" y="365.3" width="1.3" height="22.2" fill="#fff" opacity="0.117"/>
<rect x="272.2" y="365.3" width="1.6" height="22.2" fill="#fff" opacity="0.098"/>
<rect x="280.9" y="365.3" width="1.3" height="22.2" fill="#fff" opacity="0.130"/>
<rect x="285.7" y="365.3" width="0.8" height="22.2" fill="#000" opacity="0.057"/>
<rect x="73.4" y="387.5" width="0.8" height="21.8" fill="#fff" opacity="0.071"/>
<rect x="79.3" y="387.5" width="1.6" height="21.8" fill="#fff" opacity="0.075"/>
<rect x="104.3" y="387.5" width="0.8" height="21.8" fill="#fff" opacity="0.076"/>
<rect x="107.6" y="387.5" width="2" height="21.8" fill="#fff" opacity="0.093"/>
<rect x="114.6" y="387.5" width="0.8" height="21.8" fill="#fff" opacity="0.054"/>
<rect x="131" y="387.5" width="1" height="21.8" fill="#fff" opacity="0.123"/>
<rect x="139" y="387.5" width="2" height="21.8" fill="#fff" opacity="0.128"/>
<rect x="142.5" y="387.5" width="2" height="21.8" fill="#fff" opacity="0.063"/>
<rect x="152.1" y="387.5" width="1.6" height="21.8" fill="#000" opacity="0.063"/>
<rect x="157" y="387.5" width="1.6" height="21.8" fill="#000" opacity="0.061"/>
<rect x="162.1" y="387.5" width="1.3" height="21.8" fill="#000" opacity="0.059"/>
<rect x="174.9" y="387.5" width="0.8" height="21.8" fill="#fff" opacity="0.052"/>
<rect x="176.2" y="387.5" width="0.8" height="21.8" fill="#fff" opacity="0.118"/>
<rect x="178" y="387.5" width="2" height="21.8" fill="#000" opacity="0.049"/>
<rect x="181.5" y="387.5" width="1" height="21.8" fill="#fff" opacity="0.062"/>
<rect x="183" y="387.5" width="0.8" height="21.8" fill="#000" opacity="0.064"/>
<rect x="184.8" y="387.5" width="1.6" height="21.8" fill="#fff" opacity="0.123"/>
<rect x="192.4" y="387.5" width="1.3" height="21.8" fill="#000" opacity="0.063"/>
<rect x="211.7" y="387.5" width="0.8" height="21.8" fill="#000" opacity="0.054"/>
<rect x="231.2" y="387.5" width="1.6" height="21.8" fill="#fff" opacity="0.134"/>
<rect x="236.3" y="387.5" width="1" height="21.8" fill="#000" opacity="0.031"/>
<rect x="239.8" y="387.5" width="2" height="21.8" fill="#fff" opacity="0.101"/>
<rect x="244.3" y="387.5" width="2" height="21.8" fill="#fff" opacity="0.066"/>
<rect x="249.9" y="387.5" width="0.8" height="21.8" fill="#fff" opacity="0.064"/>
<rect x="257.8" y="387.5" width="2" height="21.8" fill="#fff" opacity="0.116"/>
<rect x="261.3" y="387.5" width="0.8" height="21.8" fill="#000" opacity="0.034"/>
<rect x="268.1" y="387.5" width="2" height="21.8" fill="#fff" opacity="0.082"/>
<rect x="283.9" y="387.5" width="2" height="21.8" fill="#fff" opacity="0.060"/>
<rect x="288.4" y="387.5" width="1" height="21.8" fill="#fff" opacity="0.107"/>
<rect x="290.4" y="387.5" width="1.3" height="21.8" fill="#fff" opacity="0.076"/>
<rect x="62.6" y="409.3" width="1.6" height="22" fill="#fff" opacity="0.108"/>
<rect x="69" y="409.3" width="1.3" height="22" fill="#fff" opacity="0.070"/>
<rect x="76.8" y="409.3" width="2" height="22" fill="#fff" opacity="0.075"/>
<rect x="98.4" y="409.3" width="0.8" height="22" fill="#fff" opacity="0.122"/>
<rect x="113.6" y="409.3" width="1.6" height="22" fill="#fff" opacity="0.073"/>
<rect x="127" y="409.3" width="0.8" height="22" fill="#000" opacity="0.036"/>
<rect x="128.8" y="409.3" width="0.8" height="22" fill="#000" opacity="0.051"/>
<rect x="132.1" y="409.3" width="1.6" height="22" fill="#000" opacity="0.052"/>
<rect x="137.2" y="409.3" width="1.3" height="22" fill="#fff" opacity="0.067"/>
<rect x="139" y="409.3" width="1.6" height="22" fill="#fff" opacity="0.097"/>
<rect x="141.6" y="409.3" width="1.3" height="22" fill="#fff" opacity="0.100"/>
<rect x="145.4" y="409.3" width="0.8" height="22" fill="#000" opacity="0.034"/>
<rect x="150.8" y="409.3" width="1.6" height="22" fill="#fff" opacity="0.114"/>
<rect x="159" y="409.3" width="2" height="22" fill="#000" opacity="0.067"/>
<rect x="167.3" y="409.3" width="0.8" height="22" fill="#fff" opacity="0.116"/>
<rect x="179.6" y="409.3" width="0.8" height="22" fill="#fff" opacity="0.111"/>
<rect x="181.4" y="409.3" width="1" height="22" fill="#fff" opacity="0.092"/>
<rect x="182.9" y="409.3" width="0.8" height="22" fill="#fff" opacity="0.061"/>
<rect x="186.2" y="409.3" width="0.8" height="22" fill="#000" opacity="0.067"/>
<rect x="191.5" y="409.3" width="1.6" height="22" fill="#fff" opacity="0.051"/>
<rect x="202.1" y="409.3" width="1.3" height="22" fill="#fff" opacity="0.090"/>
<rect x="206.9" y="409.3" width="1.6" height="22" fill="#fff" opacity="0.076"/>
<rect x="218" y="409.3" width="1" height="22" fill="#fff" opacity="0.063"/>
<rect x="226" y="409.3" width="0.8" height="22" fill="#fff" opacity="0.088"/>
<rect x="228.3" y="409.3" width="1.3" height="22" fill="#000" opacity="0.041"/>
<rect x="242.7" y="409.3" width="1.3" height="22" fill="#000" opacity="0.066"/>
<rect x="245.5" y="409.3" width="2" height="22" fill="#000" opacity="0.030"/>
<rect x="251.5" y="409.3" width="1" height="22" fill="#fff" opacity="0.057"/>
<rect x="253" y="409.3" width="1.6" height="22" fill="#000" opacity="0.068"/>
<rect x="261.9" y="409.3" width="1" height="22" fill="#fff" opacity="0.063"/>
<rect x="273.8" y="409.3" width="1" height="22" fill="#fff" opacity="0.059"/>
<rect x="289.6" y="409.3" width="1.6" height="22" fill="#fff" opacity="0.135"/>
<rect x="67.1" y="431.3" width="0.8" height="22" fill="#fff" opacity="0.115"/>
<rect x="91.9" y="431.3" width="2" height="22" fill="#000" opacity="0.039"/>
<rect x="96.4" y="431.3" width="2" height="22" fill="#fff" opacity="0.097"/>
<rect x="103.7" y="431.3" width="1.6" height="22" fill="#fff" opacity="0.077"/>
<rect x="106.8" y="431.3" width="1" height="22" fill="#000" opacity="0.063"/>
<rect x="110.3" y="431.3" width="1" height="22" fill="#fff" opacity="0.054"/>
<rect x="118.7" y="431.3" width="1" height="22" fill="#000" opacity="0.058"/>
<rect x="120.2" y="431.3" width="1" height="22" fill="#000" opacity="0.066"/>
<rect x="129.7" y="431.3" width="0.8" height="22" fill="#000" opacity="0.068"/>
<rect x="138.4" y="431.3" width="1.6" height="22" fill="#fff" opacity="0.078"/>
<rect x="141" y="431.3" width="1.3" height="22" fill="#fff" opacity="0.110"/>
<rect x="152.7" y="431.3" width="1" height="22" fill="#000" opacity="0.034"/>
<rect x="164.3" y="431.3" width="1.3" height="22" fill="#fff" opacity="0.065"/>
<rect x="166.6" y="431.3" width="1" height="22" fill="#000" opacity="0.031"/>
<rect x="172.9" y="431.3" width="1.6" height="22" fill="#000" opacity="0.032"/>
<rect x="180.3" y="431.3" width="2" height="22" fill="#000" opacity="0.055"/>
<rect x="185.8" y="431.3" width="2" height="22" fill="#000" opacity="0.037"/>
<rect x="191.3" y="431.3" width="1.6" height="22" fill="#fff" opacity="0.120"/>
<rect x="199.7" y="431.3" width="0.8" height="22" fill="#000" opacity="0.032"/>
<rect x="203" y="431.3" width="1" height="22" fill="#000" opacity="0.054"/>
<rect x="206.5" y="431.3" width="2" height="22" fill="#fff" opacity="0.122"/>
<rect x="216.3" y="431.3" width="2" height="22" fill="#fff" opacity="0.054"/>
<rect x="228.8" y="431.3" width="1" height="22" fill="#fff" opacity="0.095"/>
<rect x="233.3" y="431.3" width="1.6" height="22" fill="#fff" opacity="0.083"/>
<rect x="235.9" y="431.3" width="0.8" height="22" fill="#000" opacity="0.054"/>
<rect x="242.2" y="431.3" width="0.8" height="22" fill="#fff" opacity="0.097"/>
<rect x="249.7" y="431.3" width="2" height="22" fill="#fff" opacity="0.100"/>
<rect x="255.3" y="431.3" width="1.3" height="22" fill="#000" opacity="0.067"/>
<rect x="257.6" y="431.3" width="0.8" height="22" fill="#fff" opacity="0.140"/>
<rect x="268.9" y="431.3" width="1" height="22" fill="#000" opacity="0.039"/>
<rect x="271.4" y="431.3" width="1" height="22" fill="#fff" opacity="0.065"/>
<rect x="273.4" y="431.3" width="1.6" height="22" fill="#fff" opacity="0.078"/>
<rect x="280.1" y="431.3" width="1.6" height="22" fill="#fff" opacity="0.057"/>
<rect x="290.3" y="431.3" width="2" height="22" fill="#000" opacity="0.059"/>
<rect x="62.6" y="453.3" width="0.8" height="22" fill="#fff" opacity="0.134"/>
<rect x="69.7" y="453.3" width="1.6" height="22" fill="#000" opacity="0.043"/>
<rect x="74.8" y="453.3" width="0.8" height="22" fill="#000" opacity="0.050"/>
<rect x="78.6" y="453.3" width="0.8" height="22" fill="#fff" opacity="0.093"/>
<rect x="94.7" y="453.3" width="1" height="22" fill="#000" opacity="0.039"/>
<rect x="97.2" y="453.3" width="1.3" height="22" fill="#fff" opacity="0.054"/>
<rect x="106.4" y="453.3" width="1.3" height="22" fill="#000" opacity="0.034"/>
<rect x="110.2" y="453.3" width="0.8" height="22" fill="#fff" opacity="0.085"/>
<rect x="115.3" y="453.3" width="1" height="22" fill="#fff" opacity="0.093"/>
<rect x="119.6" y="453.3" width="2" height="22" fill="#fff" opacity="0.088"/>
<rect x="129.5" y="453.3" width="1.6" height="22" fill="#000" opacity="0.066"/>
<rect x="132.6" y="453.3" width="0.8" height="22" fill="#000" opacity="0.042"/>
<rect x="134.9" y="453.3" width="1.3" height="22" fill="#fff" opacity="0.079"/>
<rect x="137.7" y="453.3" width="2" height="22" fill="#000" opacity="0.065"/>
<rect x="151.4" y="453.3" width="2" height="22" fill="#fff" opacity="0.075"/>
<rect x="155.9" y="453.3" width="1.6" height="22" fill="#000" opacity="0.032"/>
<rect x="158.5" y="453.3" width="2" height="22" fill="#fff" opacity="0.093"/>
<rect x="163.5" y="453.3" width="1" height="22" fill="#fff" opacity="0.097"/>
<rect x="168" y="453.3" width="1.6" height="22" fill="#fff" opacity="0.126"/>
<rect x="177.4" y="453.3" width="1.3" height="22" fill="#fff" opacity="0.052"/>
<rect x="182.3" y="453.3" width="1" height="22" fill="#000" opacity="0.050"/>
<rect x="186.8" y="453.3" width="1.3" height="22" fill="#fff" opacity="0.117"/>
<rect x="191.6" y="453.3" width="1.6" height="22" fill="#fff" opacity="0.079"/>
<rect x="203.3" y="453.3" width="1.6" height="22" fill="#000" opacity="0.047"/>
<rect x="207.4" y="453.3" width="0.8" height="22" fill="#fff" opacity="0.117"/>
<rect x="216.3" y="453.3" width="1" height="22" fill="#000" opacity="0.064"/>
<rect x="224.8" y="453.3" width="1" height="22" fill="#fff" opacity="0.110"/>
<rect x="243.5" y="453.3" width="0.8" height="22" fill="#000" opacity="0.065"/>
<rect x="245.3" y="453.3" width="1.3" height="22" fill="#fff" opacity="0.122"/>
<rect x="253.9" y="453.3" width="1.6" height="22" fill="#fff" opacity="0.089"/>
<rect x="257" y="453.3" width="1" height="22" fill="#000" opacity="0.061"/>
<rect x="264.1" y="453.3" width="2" height="22" fill="#000" opacity="0.048"/>
<rect x="270.1" y="453.3" width="1.6" height="22" fill="#fff" opacity="0.130"/>
<rect x="276.7" y="453.3" width="1.6" height="22" fill="#fff" opacity="0.093"/>
<rect x="279.8" y="453.3" width="2" height="22" fill="#fff" opacity="0.056"/>
<rect x="283.3" y="453.3" width="0.8" height="22" fill="#fff" opacity="0.063"/>
<rect x="43.4" y="344" width="3.5" height="64.8" fill="#2c7a34"/>
<rect x="43.4" y="410.4" width="3.5" height="65.4" fill="#e0262a"/>
<g stroke="#555" stroke-width="0.9" fill="none">
<path d="M43.4 354.5H39.3V387.4M43.4 376.2H39.6V398.6H43.4M39.3 371H32.2V437.4H38.2M43.4 420.5H38.2V454.3M43.4 443H38.8V465.3H43.4"/>
</g>
<g stroke="#333" stroke-width="0.8" fill="none">
<path stroke-width="0.75" d="M63.2 331V328.58H64.7V331M66.2 331V329.05H67.3V331M63.95 328.58V327.96H66.75V329.05M69 331V328.48H70.3V331M69.65 328.48V326.71H71.4V331M65.35 327.96V325.97H70.53V326.71M72.7 331V328.44H73.8V331M75.3 331V328.87H77V331M73.25 328.44V328.06H76.15V328.87M67.94 325.97V325.3H74.7V328.06M80 331V329.23H81.1V331M78.3 331V326.85H80.55V329.23M79.42 326.85V325.3H82.4V331M83.5 331V329.2H84.8V331M84.15 329.2V327.02H86.5V331M88 331V329.18H89.3V331M85.32 327.02V326.37H88.65V329.18M80.91 325.3V325.3H86.99V326.37M71.32 325.3V325.3H83.95V325.3M92.3 331V329.21H93.4V331M91 331V327.57H92.85V329.21M94.7 331V328.81H96.4V331M95.55 328.81V326.97H97.7V331M99 331V329.4H100.1V331M96.62 326.97V326.47H99.55V329.4M91.92 327.57V326.03H98.09V326.47M101.2 331V328.85H102.5V331M101.85 328.85V326.95H103.8V331M102.82 326.95V325.3H105.1V331M106.4 331V328.98H107.9V331M109.4 331V328.93H110.7V331M107.15 328.98V328.55H110.05V328.93M112 331V328.44H113.3V331M112.65 328.44V325.87H114.6V331M108.6 328.55V325.3H113.62V325.87M116.3 331V329.02H117.8V331M118.9 331V328.83H120.4V331M117.05 329.02V328.23H119.65V328.83M111.11 325.3V325.3H118.35V328.23M103.96 325.3V325.3H114.73V325.3M95.01 326.03V325.3H109.35V325.3M122.1 331V328.8H123.4V331M124.7 331V328.66H126.2V331M122.75 328.8V328.21H125.45V328.66M127.3 331V328.98H128.8V331M124.1 328.21V327.75H128.05V328.98M130.3 331V328.92H131.4V331M132.9 331V328.74H134V331M130.85 328.92V327.96H133.45V328.74M137 331V328.62H138.5V331M137.75 328.62V326.19H140.2V331M135.5 331V325.3H138.97V326.19M132.15 327.96V325.3H137.24V325.3M126.07 327.75V325.3H134.69V325.3M141.7 331V328.68H143V331M144.7 331V329.11H146.4V331M142.35 328.68V328.07H145.55V329.11M143.95 328.07V326H147.7V331M150.3 331V329.12H151.4V331M148.8 331V326.81H150.85V329.12M152.9 331V328.72H154.6V331M155.7 331V329.36H157.4V331M153.75 328.72V328.29H156.55V329.36M158.9 331V328.71H160.6V331M155.15 328.29V327.94H159.75V328.71M157.45 327.94V325.65H161.7V331M164.5 331V328.72H165.8V331M167.1 331V328.5H168.2V331M165.15 328.72V327.97H167.65V328.5M166.4 327.97V325.61H169.5V331M171.2 331V328.56H172.7V331M167.95 325.61V325.3H171.95V328.56M163.4 331V325.3H169.95V325.3M159.57 325.65V325.3H166.67V325.3M149.82 326.81V325.3H163.12V325.3M145.82 326V325.3H156.47V325.3M130.38 325.3V325.3H151.15V325.3M175.7 331V328.67H177.4V331M174.2 331V326.8H176.55V328.67M175.37 326.8V325.3H178.5V331M180 331V328.74H181.5V331M176.94 325.3V325.3H180.75V328.74M182.6 331V328.4H184.3V331M183.45 328.4V326.1H185.4V331M178.84 325.3V325.3H184.42V326.1M186.7 331V328.69H188.2V331M191 331V328.69H192.5V331M189.7 331V326.66H191.75V328.69M187.45 328.69V326.26H190.72V326.66M181.63 325.3V325.3H189.09V326.26M196.6 331V329.36H198.1V331M195.1 331V327.65H197.35V329.36M194 331V325.67H196.22V327.65M185.36 325.3V325.3H195.11V325.67M140.77 325.3V325.3H190.24V325.3M102.18 325.3V325.3H165.5V325.3M199.6 331V329.31H200.9V331M202 331V328.49H203.3V331M204.8 331V328.7H206.5V331M202.65 328.49V328.11H205.65V328.7M207.8 331V328.49H208.9V331M204.15 328.11V327.53H208.35V328.49M206.25 327.53V325.31H210V331M200.25 329.31V325.3H208.12V325.31M211.7 331V328.88H212.8V331M212.25 328.88V327.15H214.1V331M217.1 331V328.66H218.8V331M217.95 328.66V326.88H220.5V331M215.6 331V325.3H219.22V326.88M213.17 327.15V325.3H217.41V325.3M204.19 325.3V325.3H215.29V325.3M133.84 325.3V325.3H209.74V325.3M77.63 325.3V325.3H171.79V325.3M224 331V329.35H225.7V331M222.9 331V327.6H224.85V329.35M223.87 327.6V325.3H227.2V331M221.8 331V325.3H225.54V325.3M231.1 331V329.26H232.8V331M231.95 329.26V327.04H233.9V331M229.8 331V325.3H232.92V327.04M228.5 331V325.3H231.36V325.3M223.67 325.3V325.3H229.93V325.3M235.2 331V328.44H236.9V331M236.05 328.44V326.48H238.4V331M239.7 331V328.81H240.8V331M237.22 326.48V325.89H240.25V328.81M242.5 331V329H244V331M238.74 325.89V325.54H243.25V329M248.3 331V329.2H250V331M247 331V327.11H249.15V329.2M245.3 331V325.3H248.07V327.11M240.99 325.54V325.3H246.69V325.3M226.8 325.3V325.3H243.84V325.3M251.7 331V329.3H253.2V331M252.45 329.3V327.55H254.9V331M257.9 331V329.03H259.6V331M256.4 331V327.04H258.75V329.03M253.67 327.55V326.3H257.57V327.04M262.6 331V329.12H263.7V331M263.15 329.12V327.36H265.4V331M261.3 331V325.47H264.27V327.36M255.62 326.3V325.3H262.79V325.47M266.7 331V328.48H268.4V331M271.2 331V328.73H272.3V331M269.9 331V326.65H271.75V328.73M275.5 331V328.95H277V331M276.25 328.95V327.11H278.1V331M277.17 327.11V325.3H279.6V331M274 331V325.3H278.39V325.3M270.82 326.65V325.3H276.19V325.3M267.55 328.48V325.3H273.51V325.3M259.21 325.3V325.3H270.53V325.3M235.32 325.3V325.3H264.87V325.3M280.7 331V328.93H282.2V331M281.45 328.93V327.05H283.7V331M285.2 331V329.22H286.9V331M289.9 331V328.75H291.4V331M288.4 331V326.72H290.65V328.75M286.05 329.22V325.94H289.52V326.72M282.57 327.05V325.63H287.79V325.94M250.09 325.3V325.3H285.18V325.63M124.71 325.3V324.4M267.64 325.3V324.4"/>
<path d="M183.8 324.4V314.4H257.3V324.4M124.71 324.4H183.8M257.3 324.4H267.64"/>
</g>
<text x="98.2" y="496.2" font-size="9.6" text-anchor="start" fill="#3a1814">Type</text>
<rect x="129.7" y="489.7" width="7.7" height="5.6" fill="#2c7a34" stroke="#333" stroke-width="0.6"/>
<text x="139.8" y="496.2" font-size="8.8" text-anchor="start" fill="#3a1814">siControl</text>
<rect x="190.5" y="489.7" width="8.1" height="5.6" fill="#e0262a" stroke="#333" stroke-width="0.6"/>
<text x="201" y="496.2" font-size="8.8" text-anchor="start" fill="#3a1814">siMCM3.2</text>
<rect x="62.6" y="499.4" width="18" height="10.6" fill="#4b55b3"/>
<rect x="80" y="499.4" width="20.6" height="10.6" fill="#4d58b6"/>
<rect x="100" y="499.4" width="18.6" height="10.6" fill="#535db8"/>
<rect x="118" y="499.4" width="15.6" height="10.6" fill="#6266c0"/>
<rect x="133" y="499.4" width="15.6" height="10.6" fill="#7474c6"/>
<rect x="148" y="499.4" width="12.6" height="10.6" fill="#9090d4"/>
<rect x="160" y="499.4" width="12.6" height="10.6" fill="#a8a8dc"/>
<rect x="172" y="499.4" width="12.6" height="10.6" fill="#c4c4c4"/>
<rect x="184" y="499.4" width="10.6" height="10.6" fill="#d4a8a8"/>
<rect x="194" y="499.4" width="13.6" height="10.6" fill="#d89090"/>
<rect x="207" y="499.4" width="14.6" height="10.6" fill="#d87878"/>
<rect x="221" y="499.4" width="16.6" height="10.6" fill="#d86060"/>
<rect x="237" y="499.4" width="17.6" height="10.6" fill="#dc4848"/>
<rect x="254" y="499.4" width="38.6" height="10.6" fill="#e83030"/>
<rect x="62.6" y="499.4" width="230" height="10.6" fill="none" stroke="#333" stroke-width="1"/>
<text x="53.6" y="520.2" font-size="10.2" text-anchor="start" fill="#3a1814">-1.77</text>
<text x="148.8" y="520.2" font-size="10.2" text-anchor="start" fill="#3a1814">0.00</text>
<text x="241.6" y="520.2" font-size="10.2" text-anchor="start" fill="#3a1814">1.77</text>
<text x="336" y="295.7" font-size="17.5" text-anchor="start" fill="#2e100c">d</text>
<rect x="434.4" y="324" width="9" height="8" fill="#000000"/>
<text x="451.6" y="332.2" font-size="10.1" text-anchor="start" fill="#3a1814">siControl</text>
<rect x="543" y="324" width="9" height="8" fill="#bc2e29"/>
<text x="559" y="332.2" font-size="10.1" text-anchor="start" fill="#3a1814">siMCM3.2</text>
<line x1="399.3" y1="336.9" x2="399.3" y2="491" stroke="#b0b0b0" stroke-width="1.3"/>
<line x1="399.3" y1="491" x2="671" y2="491" stroke="#b0b0b0" stroke-width="1.3"/>
<line x1="396.3" y1="336.9" x2="399.3" y2="336.9" stroke="#b0b0b0" stroke-width="1.1"/>
<text x="390.3" y="345.6" font-size="10" text-anchor="end" fill="#3a1814">400</text>
<line x1="396.3" y1="375.42" x2="399.3" y2="375.42" stroke="#b0b0b0" stroke-width="1.1"/>
<text x="390.3" y="383.75" font-size="10" text-anchor="end" fill="#3a1814">300</text>
<line x1="396.3" y1="413.95" x2="399.3" y2="413.95" stroke="#b0b0b0" stroke-width="1.1"/>
<text x="390.3" y="421.9" font-size="10" text-anchor="end" fill="#3a1814">200</text>
<line x1="396.3" y1="452.48" x2="399.3" y2="452.48" stroke="#b0b0b0" stroke-width="1.1"/>
<text x="390.3" y="460.05" font-size="10" text-anchor="end" fill="#3a1814">100</text>
<line x1="396.3" y1="491" x2="399.3" y2="491" stroke="#b0b0b0" stroke-width="1.1"/>
<text x="390.3" y="498.2" font-size="10" text-anchor="end" fill="#3a1814">0</text>
<line x1="399.3" y1="491" x2="399.3" y2="494" stroke="#b0b0b0" stroke-width="1.1"/>
<line x1="467.3" y1="491" x2="467.3" y2="494" stroke="#b0b0b0" stroke-width="1.1"/>
<line x1="536" y1="491" x2="536" y2="494" stroke="#b0b0b0" stroke-width="1.1"/>
<line x1="603.6" y1="491" x2="603.6" y2="494" stroke="#b0b0b0" stroke-width="1.1"/>
<line x1="671" y1="491" x2="671" y2="494" stroke="#b0b0b0" stroke-width="1.1"/>
<rect x="414.4" y="453" width="19.2" height="38" fill="#000000"/>
<rect x="433.6" y="441" width="19.4" height="50" fill="#bc2e29"/>
<rect x="482.4" y="453" width="19" height="38" fill="#000000"/>
<rect x="501.4" y="399.4" width="20" height="91.6" fill="#bc2e29"/>
<rect x="550.6" y="453" width="19" height="38" fill="#000000"/>
<rect x="569.6" y="384.6" width="19.4" height="106.4" fill="#bc2e29"/>
<rect x="618" y="453" width="19.6" height="38" fill="#000000"/>
<rect x="637.6" y="366" width="19.4" height="125" fill="#bc2e29"/>
<g stroke="#111" stroke-width="1.3" opacity="0.95">
<line x1="423.6" y1="443.6" x2="423.6" y2="462.4"/>
<line x1="421.1" y1="443.6" x2="426.1" y2="443.6"/>
<line x1="421.1" y1="462.4" x2="426.1" y2="462.4"/>
</g>
<g stroke="#111" stroke-width="1.3" opacity="0.95">
<line x1="444.4" y1="432" x2="444.4" y2="450"/>
<line x1="441.9" y1="432" x2="446.9" y2="432"/>
<line x1="441.9" y1="450" x2="446.9" y2="450"/>
</g>
<g stroke="#111" stroke-width="1.3" opacity="0.95">
<line x1="492" y1="448.4" x2="492" y2="457.6"/>
<line x1="489.5" y1="448.4" x2="494.5" y2="448.4"/>
<line x1="489.5" y1="457.6" x2="494.5" y2="457.6"/>
</g>
<g stroke="#111" stroke-width="1.3" opacity="0.95">
<line x1="511.4" y1="390.4" x2="511.4" y2="406.4"/>
<line x1="508.9" y1="390.4" x2="513.9" y2="390.4"/>
<line x1="508.9" y1="406.4" x2="513.9" y2="406.4"/>
</g>
<g stroke="#111" stroke-width="1.3" opacity="0.95">
<line x1="560" y1="447.4" x2="560" y2="458.6"/>
<line x1="557.5" y1="447.4" x2="562.5" y2="447.4"/>
<line x1="557.5" y1="458.6" x2="562.5" y2="458.6"/>
</g>
<g stroke="#111" stroke-width="1.3" opacity="0.95">
<line x1="579.4" y1="380.4" x2="579.4" y2="388.4"/>
<line x1="576.9" y1="380.4" x2="581.9" y2="380.4"/>
<line x1="576.9" y1="388.4" x2="581.9" y2="388.4"/>
</g>
<g stroke="#111" stroke-width="1.3" opacity="0.95">
<line x1="627.6" y1="451" x2="627.6" y2="455"/>
<line x1="625.1" y1="451" x2="630.1" y2="451"/>
<line x1="625.1" y1="455" x2="630.1" y2="455"/>
</g>
<g stroke="#111" stroke-width="1.3" opacity="0.95">
<line x1="647.6" y1="356.6" x2="647.6" y2="376.4"/>
<line x1="645.1" y1="356.6" x2="650.1" y2="356.6"/>
<line x1="645.1" y1="376.4" x2="650.1" y2="376.4"/>
</g>
<text x="435.3" y="509.8" font-size="10.1" text-anchor="middle" fill="#3a1814">MCF7/S0.5</text>
<text x="503.8" y="509.8" font-size="10.1" text-anchor="middle" fill="#3a1814">TamR1</text>
<text x="570.2" y="509.8" font-size="10.1" text-anchor="middle" fill="#3a1814">TamR4</text>
<text x="640.5" y="509.8" font-size="10.1" text-anchor="middle" fill="#3a1814">TamR7</text>
<text transform="translate(366.8 418.6) rotate(-90)" font-size="9.8" text-anchor="middle" fill="#3a1814">TRAIL expression (% siControl)</text>
<text x="0.4" y="554" font-size="17" text-anchor="start" fill="#2e100c">e</text>
<line x1="53" y1="614.1" x2="53" y2="734.7" stroke="#6e6e6e" stroke-width="1.1"/>
<line x1="53" y1="734.7" x2="216.3" y2="734.7" stroke="#6e6e6e" stroke-width="1.1"/>
<line x1="50" y1="614.1" x2="53" y2="614.1" stroke="#6e6e6e" stroke-width="1"/>
<text x="49.6" y="618.8" font-size="10" text-anchor="end" fill="#3a1814" stroke="#3a1814" stroke-width="0.25">120</text>
<line x1="50" y1="634.2" x2="53" y2="634.2" stroke="#6e6e6e" stroke-width="1"/>
<text x="49.6" y="638.9" font-size="10" text-anchor="end" fill="#3a1814" stroke="#3a1814" stroke-width="0.25">100</text>
<line x1="50" y1="654.3" x2="53" y2="654.3" stroke="#6e6e6e" stroke-width="1"/>
<text x="49.6" y="659" font-size="10" text-anchor="end" fill="#3a1814" stroke="#3a1814" stroke-width="0.25">80</text>
<line x1="50" y1="674.4" x2="53" y2="674.4" stroke="#6e6e6e" stroke-width="1"/>
<text x="49.6" y="679.1" font-size="10" text-anchor="end" fill="#3a1814" stroke="#3a1814" stroke-width="0.25">60</text>
<line x1="50" y1="694.5" x2="53" y2="694.5" stroke="#6e6e6e" stroke-width="1"/>
<text x="49.6" y="699.2" font-size="10" text-anchor="end" fill="#3a1814" stroke="#3a1814" stroke-width="0.25">40</text>
<line x1="50" y1="714.6" x2="53" y2="714.6" stroke="#6e6e6e" stroke-width="1"/>
<text x="49.6" y="719.3" font-size="10" text-anchor="end" fill="#3a1814" stroke="#3a1814" stroke-width="0.25">20</text>
<line x1="50" y1="734.7" x2="53" y2="734.7" stroke="#6e6e6e" stroke-width="1"/>
<text x="49.6" y="739.4" font-size="10" text-anchor="end" fill="#3a1814" stroke="#3a1814" stroke-width="0.25">0</text>
<line x1="94.5" y1="734.7" x2="94.5" y2="737.2" stroke="#6e6e6e" stroke-width="1"/>
<line x1="135" y1="734.7" x2="135" y2="737.2" stroke="#6e6e6e" stroke-width="1"/>
<line x1="175.4" y1="734.7" x2="175.4" y2="737.2" stroke="#6e6e6e" stroke-width="1"/>
<line x1="216.3" y1="734.7" x2="216.3" y2="737.2" stroke="#6e6e6e" stroke-width="1"/>
<rect x="62.6" y="634.2" width="11.3" height="100.5" fill="#000000"/>
<rect x="103.3" y="634.2" width="11.6" height="100.5" fill="#000000"/>
<rect x="143.8" y="634.2" width="11.6" height="100.5" fill="#000000"/>
<rect x="184.4" y="634.2" width="11.9" height="100.5" fill="#000000"/>
<rect x="74.3" y="678.4" width="10.7" height="56.3" fill="#fff" stroke="#222" stroke-width="0.8"/>
<rect x="115.3" y="680.4" width="11.1" height="54.3" fill="#fff" stroke="#222" stroke-width="0.8"/>
<rect x="155.8" y="687.2" width="11.1" height="47.5" fill="#fff" stroke="#222" stroke-width="0.8"/>
<rect x="196.7" y="679.8" width="10.8" height="54.9" fill="#fff" stroke="#222" stroke-width="0.8"/>
<g stroke="#333" stroke-width="0.8" opacity="0.8">
<line x1="79.8" y1="673.2" x2="79.8" y2="683.6"/>
<line x1="78.4" y1="673.2" x2="81.2" y2="673.2"/>
<line x1="78.4" y1="683.6" x2="81.2" y2="683.6"/>
</g>
<g stroke="#333" stroke-width="0.8" opacity="0.8">
<line x1="120.4" y1="674.7" x2="120.4" y2="687"/>
<line x1="119" y1="674.7" x2="121.8" y2="674.7"/>
<line x1="119" y1="687" x2="121.8" y2="687"/>
</g>
<g stroke="#333" stroke-width="0.8" opacity="0.8">
<line x1="161.1" y1="684.1" x2="161.1" y2="690.7"/>
<line x1="159.7" y1="684.1" x2="162.5" y2="684.1"/>
<line x1="159.7" y1="690.7" x2="162.5" y2="690.7"/>
</g>
<g stroke="#333" stroke-width="0.8" opacity="0.8">
<line x1="201.8" y1="674.9" x2="201.8" y2="684.5"/>
<line x1="200.4" y1="674.9" x2="203.2" y2="674.9"/>
<line x1="200.4" y1="684.5" x2="203.2" y2="684.5"/>
</g>
<rect x="88" y="615.3" width="2.9" height="4.7" fill="#000000"/>
<text x="93.4" y="621.8" font-size="8.8" text-anchor="start" fill="#3a1814" stroke="#3a1814" stroke-width="0.2">siControl</text>
<rect x="130.1" y="615.6" width="3.2" height="4.2" fill="#fff" stroke="#333" stroke-width="0.7"/>
<text x="137.4" y="621.8" font-size="8.8" text-anchor="start" fill="#3a1814" stroke="#3a1814" stroke-width="0.2">siMCM3</text>
<text x="74" y="750.2" font-size="8.8" text-anchor="middle" fill="#3a1814" stroke="#3a1814" stroke-width="0.2">MCF7/S0.5</text>
<text x="115.7" y="750.2" font-size="8.8" text-anchor="middle" fill="#3a1814" stroke="#3a1814" stroke-width="0.2">TamR1</text>
<text x="156.6" y="750.2" font-size="8.8" text-anchor="middle" fill="#3a1814" stroke="#3a1814" stroke-width="0.2">TamR4</text>
<text x="198.3" y="750.2" font-size="8.8" text-anchor="middle" fill="#3a1814" stroke="#3a1814" stroke-width="0.2">TamR7</text>
<text transform="translate(18.9 676.5) rotate(-90)" font-size="10.3" text-anchor="middle" fill="#3a1814">Relative expression of TFF1</text>
<text transform="translate(32.2 676.7) rotate(-90)" font-size="10.3" text-anchor="middle" fill="#3a1814">(mRNA)</text>
<text x="219.2" y="553.9" font-size="17" text-anchor="start" fill="#2e100c">f</text>
<text transform="translate(283.8 695) rotate(-90)" font-size="10.35" text-anchor="start" fill="#3a1814">MCF7/S0.5-siControl</text>
<text transform="translate(301.5 695) rotate(-90)" font-size="10.35" text-anchor="start" fill="#3a1814">MCF7/S0.5-siMCM3</text>
<text transform="translate(316.9 695) rotate(-90)" font-size="10.35" text-anchor="start" fill="#3a1814">TamR1-siControl</text>
<text transform="translate(334.2 695) rotate(-90)" font-size="10.35" text-anchor="start" fill="#3a1814">TamR1-siMCM3</text>
<text transform="translate(350.5 695) rotate(-90)" font-size="10.35" text-anchor="start" fill="#3a1814">TamR4-siControl</text>
<text transform="translate(367.1 695) rotate(-90)" font-size="10.35" text-anchor="start" fill="#3a1814">TamR4-siMCM3</text>
<text transform="translate(383.8 695) rotate(-90)" font-size="10.35" text-anchor="start" fill="#3a1814">TamR7-siControl</text>
<text transform="translate(399.9 695) rotate(-90)" font-size="10.35" text-anchor="start" fill="#3a1814">TamR7-siMCM3</text>
<defs><filter id="bl" x="-20%" y="-50%" width="140%" height="200%"><feGaussianBlur stdDeviation="0.75"/></filter></defs>
<rect x="270.7" y="702" width="135.3" height="16.9" fill="#959595"/>
<rect x="270.7" y="725.9" width="135.3" height="17" fill="#959595"/>
<g fill="#1a1a1a" filter="url(#bl)">
<rect x="272.8" y="713.15" width="11.9" height="4.3" rx="3.2" ry="2.15"/>
<rect x="289.2" y="713.3" width="11.5" height="3.6" rx="3.2" ry="1.8"/>
<rect x="306" y="712.05" width="11.9" height="4.3" rx="3.2" ry="2.15"/>
<rect x="323.4" y="711.3" width="11.3" height="3.6" rx="3.2" ry="1.8"/>
<rect x="340.4" y="710.4" width="12.2" height="4.4" rx="3.2" ry="2.2"/>
<rect x="358.8" y="710.4" width="10.6" height="2.8" rx="3.2" ry="1.4"/>
<rect x="375.6" y="710.6" width="10.7" height="2.6" rx="3.2" ry="1.3"/>
<rect x="392.4" y="710.8" width="10.7" height="2.6" rx="3.2" ry="1.3"/>
<rect x="272.8" y="737.3" width="12.6" height="2.8" rx="3.2" ry="1.4" transform="rotate(-2.4 279.1 738.7)"/>
<rect x="289.2" y="736.85" width="12.3" height="2.9" rx="3.2" ry="1.45" transform="rotate(-3 295.35 738.3)"/>
<rect x="305.5" y="735.8" width="12.4" height="3" rx="3.2" ry="1.5" transform="rotate(-3.6 311.7 737.3)"/>
<rect x="321.8" y="734.1" width="12.9" height="3.2" rx="3.2" ry="1.6" transform="rotate(-3 328.25 735.7)"/>
<rect x="339.4" y="732.9" width="12.4" height="3" rx="3.2" ry="1.5" transform="rotate(-4.5 345.6 734.4)"/>
<rect x="357.2" y="732.4" width="11.7" height="3" rx="3.2" ry="1.5" transform="rotate(-0.9 363.05 733.9)"/>
<rect x="374" y="731.7" width="11.7" height="3.6" rx="3.2" ry="1.8" transform="rotate(-0.6 379.85 733.5)"/>
<rect x="390.3" y="730.8" width="12.5" height="4.4" rx="3.2" ry="2.2" transform="rotate(-0 396.55 733)"/>
</g>
<text x="262.4" y="716.9" font-size="10.2" text-anchor="end" fill="#3a1814">ER</text>
<text x="265.4" y="740.1" font-size="10.2" text-anchor="end" fill="#3a1814">GAPDH</text>
<text x="407.3" y="553.6" font-size="17" text-anchor="start" fill="#2e100c">g</text>
<line x1="485.3" y1="546.6" x2="485.3" y2="714.3" stroke="#555" stroke-width="1.3"/>
<line x1="485.3" y1="714.3" x2="682" y2="714.3" stroke="#555" stroke-width="1.3"/>
<line x1="482.8" y1="546.6" x2="485.3" y2="546.6" stroke="#555" stroke-width="1"/>
<text x="479.4" y="552.6" font-size="8.6" text-anchor="end" fill="#3a1814">7.5</text>
<line x1="482.8" y1="557.78" x2="485.3" y2="557.78" stroke="#555" stroke-width="1"/>
<text x="479.4" y="563.73" font-size="8.6" text-anchor="end" fill="#3a1814">7.0</text>
<line x1="482.8" y1="568.96" x2="485.3" y2="568.96" stroke="#555" stroke-width="1"/>
<text x="479.4" y="574.86" font-size="8.6" text-anchor="end" fill="#3a1814">6.5</text>
<line x1="482.8" y1="580.14" x2="485.3" y2="580.14" stroke="#555" stroke-width="1"/>
<text x="479.4" y="585.99" font-size="8.6" text-anchor="end" fill="#3a1814">6.0</text>
<line x1="482.8" y1="591.32" x2="485.3" y2="591.32" stroke="#555" stroke-width="1"/>
<text x="479.4" y="597.12" font-size="8.6" text-anchor="end" fill="#3a1814">5.5</text>
<line x1="482.8" y1="602.5" x2="485.3" y2="602.5" stroke="#555" stroke-width="1"/>
<text x="479.4" y="608.25" font-size="8.6" text-anchor="end" fill="#3a1814">5.0</text>
<line x1="482.8" y1="613.68" x2="485.3" y2="613.68" stroke="#555" stroke-width="1"/>
<text x="479.4" y="619.38" font-size="8.6" text-anchor="end" fill="#3a1814">4.5</text>
<line x1="482.8" y1="624.86" x2="485.3" y2="624.86" stroke="#555" stroke-width="1"/>
<text x="479.4" y="630.51" font-size="8.6" text-anchor="end" fill="#3a1814">4.0</text>
<line x1="482.8" y1="636.04" x2="485.3" y2="636.04" stroke="#555" stroke-width="1"/>
<text x="479.4" y="641.64" font-size="8.6" text-anchor="end" fill="#3a1814">3.5</text>
<line x1="482.8" y1="647.22" x2="485.3" y2="647.22" stroke="#555" stroke-width="1"/>
<text x="479.4" y="652.77" font-size="8.6" text-anchor="end" fill="#3a1814">3.0</text>
<line x1="482.8" y1="658.4" x2="485.3" y2="658.4" stroke="#555" stroke-width="1"/>
<text x="479.4" y="663.9" font-size="8.6" text-anchor="end" fill="#3a1814">2.5</text>
<line x1="482.8" y1="669.58" x2="485.3" y2="669.58" stroke="#555" stroke-width="1"/>
<text x="479.4" y="675.03" font-size="8.6" text-anchor="end" fill="#3a1814">2.0</text>
<line x1="482.8" y1="680.76" x2="485.3" y2="680.76" stroke="#555" stroke-width="1"/>
<text x="479.4" y="686.16" font-size="8.6" text-anchor="end" fill="#3a1814">1.5</text>
<line x1="482.8" y1="691.94" x2="485.3" y2="691.94" stroke="#555" stroke-width="1"/>
<text x="479.4" y="697.29" font-size="8.6" text-anchor="end" fill="#3a1814">1.0</text>
<line x1="482.8" y1="703.12" x2="485.3" y2="703.12" stroke="#555" stroke-width="1"/>
<text x="479.4" y="708.42" font-size="8.6" text-anchor="end" fill="#3a1814">0.5</text>
<line x1="482.8" y1="714.3" x2="485.3" y2="714.3" stroke="#555" stroke-width="1"/>
<text x="479.4" y="719.55" font-size="8.6" text-anchor="end" fill="#3a1814">0</text>
<rect x="493.5" y="672.3" width="7.3" height="42" fill="#7f7f85"/>
<line x1="497.15" y1="714.3" x2="497.15" y2="716.5" stroke="#555" stroke-width="1"/>
<rect x="506.2" y="674.2" width="7.3" height="40.1" fill="#7f7f85"/>
<line x1="509.85" y1="714.3" x2="509.85" y2="716.5" stroke="#555" stroke-width="1"/>
<rect x="519" y="683.1" width="7.2" height="31.2" fill="#7f7f85"/>
<line x1="522.6" y1="714.3" x2="522.6" y2="716.5" stroke="#555" stroke-width="1"/>
<rect x="531" y="670.7" width="6.9" height="43.6" fill="#7f7f85"/>
<line x1="534.45" y1="714.3" x2="534.45" y2="716.5" stroke="#555" stroke-width="1"/>
<rect x="543.4" y="686" width="7.3" height="28.3" fill="#7f7f85"/>
<line x1="547.05" y1="714.3" x2="547.05" y2="716.5" stroke="#555" stroke-width="1"/>
<rect x="556.5" y="678.1" width="7.3" height="36.2" fill="#7f7f85"/>
<line x1="560.15" y1="714.3" x2="560.15" y2="716.5" stroke="#555" stroke-width="1"/>
<rect x="569.2" y="680.9" width="7.4" height="33.4" fill="#7f7f85"/>
<line x1="572.9" y1="714.3" x2="572.9" y2="716.5" stroke="#555" stroke-width="1"/>
<rect x="582.4" y="664" width="7.4" height="50.3" fill="#7f7f85"/>
<line x1="586.1" y1="714.3" x2="586.1" y2="716.5" stroke="#555" stroke-width="1"/>
<rect x="595.8" y="677.6" width="7.4" height="36.7" fill="#7f7f85"/>
<line x1="599.5" y1="714.3" x2="599.5" y2="716.5" stroke="#555" stroke-width="1"/>
<rect x="609.1" y="684.1" width="7.2" height="30.2" fill="#7f7f85"/>
<line x1="612.7" y1="714.3" x2="612.7" y2="716.5" stroke="#555" stroke-width="1"/>
<rect x="622.9" y="677.6" width="7.3" height="36.7" fill="#7f7f85"/>
<line x1="626.55" y1="714.3" x2="626.55" y2="716.5" stroke="#555" stroke-width="1"/>
<rect x="637.6" y="612.4" width="7.5" height="101.9" fill="#7f7f85"/>
<line x1="641.35" y1="714.3" x2="641.35" y2="716.5" stroke="#555" stroke-width="1"/>
<rect x="651.6" y="683.2" width="7.3" height="31.1" fill="#7f7f85"/>
<line x1="655.25" y1="714.3" x2="655.25" y2="716.5" stroke="#555" stroke-width="1"/>
<rect x="665.1" y="686" width="7.2" height="28.3" fill="#7f7f85"/>
<line x1="668.7" y1="714.3" x2="668.7" y2="716.5" stroke="#555" stroke-width="1"/>
<g stroke="#111" stroke-width="1" opacity="0.85">
<line x1="497.15" y1="660" x2="497.15" y2="684.7"/>
<line x1="495.65" y1="660" x2="498.65" y2="660"/>
<line x1="495.65" y1="684.7" x2="498.65" y2="684.7"/>
</g>
<g stroke="#111" stroke-width="1" opacity="0.85">
<line x1="509.85" y1="663.3" x2="509.85" y2="685.2"/>
<line x1="508.35" y1="663.3" x2="511.35" y2="663.3"/>
<line x1="508.35" y1="685.2" x2="511.35" y2="685.2"/>
</g>
<g stroke="#111" stroke-width="1" opacity="0.85">
<line x1="522.6" y1="679.8" x2="522.6" y2="686.6"/>
<line x1="521.1" y1="679.8" x2="524.1" y2="679.8"/>
<line x1="521.1" y1="686.6" x2="524.1" y2="686.6"/>
</g>
<g stroke="#111" stroke-width="1" opacity="0.85">
<line x1="534.45" y1="655.7" x2="534.45" y2="685"/>
<line x1="532.95" y1="655.7" x2="535.95" y2="655.7"/>
<line x1="532.95" y1="685" x2="535.95" y2="685"/>
</g>
<g stroke="#111" stroke-width="1" opacity="0.85">
<line x1="547.05" y1="684.4" x2="547.05" y2="687"/>
<line x1="545.55" y1="684.4" x2="548.55" y2="684.4"/>
<line x1="545.55" y1="687" x2="548.55" y2="687"/>
</g>
<g stroke="#111" stroke-width="1" opacity="0.85">
<line x1="560.15" y1="672" x2="560.15" y2="683.7"/>
<line x1="558.65" y1="672" x2="561.65" y2="672"/>
<line x1="558.65" y1="683.7" x2="561.65" y2="683.7"/>
</g>
<g stroke="#111" stroke-width="1" opacity="0.85">
<line x1="572.9" y1="675.1" x2="572.9" y2="687"/>
<line x1="571.4" y1="675.1" x2="574.4" y2="675.1"/>
<line x1="571.4" y1="687" x2="574.4" y2="687"/>
</g>
<g stroke="#111" stroke-width="1" opacity="0.85">
<line x1="586.1" y1="644.1" x2="586.1" y2="683"/>
<line x1="584.6" y1="644.1" x2="587.6" y2="644.1"/>
<line x1="584.6" y1="683" x2="587.6" y2="683"/>
</g>
<g stroke="#111" stroke-width="1" opacity="0.85">
<line x1="599.5" y1="672.8" x2="599.5" y2="682.6"/>
<line x1="598" y1="672.8" x2="601" y2="672.8"/>
<line x1="598" y1="682.6" x2="601" y2="682.6"/>
</g>
<g stroke="#111" stroke-width="1" opacity="0.85">
<line x1="612.7" y1="681" x2="612.7" y2="686.6"/>
<line x1="611.2" y1="681" x2="614.2" y2="681"/>
<line x1="611.2" y1="686.6" x2="614.2" y2="686.6"/>
</g>
<g stroke="#111" stroke-width="1" opacity="0.85">
<line x1="626.55" y1="669.7" x2="626.55" y2="686"/>
<line x1="625.05" y1="669.7" x2="628.05" y2="669.7"/>
<line x1="625.05" y1="686" x2="628.05" y2="686"/>
</g>
<g stroke="#111" stroke-width="1" opacity="0.85">
<line x1="641.35" y1="552.4" x2="641.35" y2="671.7"/>
<line x1="639.85" y1="552.4" x2="642.85" y2="552.4"/>
<line x1="639.85" y1="671.7" x2="642.85" y2="671.7"/>
</g>
<g stroke="#111" stroke-width="1" opacity="0.85">
<line x1="655.25" y1="680.8" x2="655.25" y2="684.8"/>
<line x1="653.75" y1="680.8" x2="656.75" y2="680.8"/>
<line x1="653.75" y1="684.8" x2="656.75" y2="684.8"/>
</g>
<g stroke="#111" stroke-width="1" opacity="0.85">
<line x1="668.7" y1="684.1" x2="668.7" y2="687"/>
<line x1="667.2" y1="684.1" x2="670.2" y2="684.1"/>
<line x1="667.2" y1="687" x2="670.2" y2="687"/>
</g>
<line x1="485.3" y1="687.3" x2="683.5" y2="687.3" stroke="#111" stroke-width="1.8"/>
<text transform="translate(500.9 722) rotate(-90)" font-size="8.82" text-anchor="end" fill="#3a1814">AKT-Thr308/AKT</text>
<text transform="translate(514.2 722) rotate(-90)" font-size="8.82" text-anchor="end" fill="#3a1814">BRCA1-Ser1524/BRCA1</text>
<text transform="translate(527.5 722) rotate(-90)" font-size="8.82" text-anchor="end" fill="#3a1814">cdc25B-Ser323/cdc25B</text>
<text transform="translate(540.5 722) rotate(-90)" font-size="8.82" text-anchor="end" fill="#3a1814">Chk1-Ser280/Chk1</text>
<text transform="translate(553.3 722) rotate(-90)" font-size="8.82" text-anchor="end" fill="#3a1814">Chk1-Ser317/Chk1</text>
<text transform="translate(566.6 722) rotate(-90)" font-size="8.82" text-anchor="end" fill="#3a1814">FOXO1A-Ser39/FOXO1A</text>
<text transform="translate(579.6 722) rotate(-90)" font-size="8.82" text-anchor="end" fill="#3a1814">HDAC6-Ser22/HDAC6</text>
<text transform="translate(595 722) rotate(-90)" font-size="8.82" text-anchor="end" fill="#3a1814">Myc-Thr358/Myc</text>
<text transform="translate(607.8 722) rotate(-90)" font-size="8.82" text-anchor="end" fill="#3a1814">Myc-Ser373/Myc</text>
<text transform="translate(620.6 722) rotate(-90)" font-size="8.82" text-anchor="end" fill="#3a1814">Myc-Thr58/Myc</text>
<text transform="translate(634.3 722) rotate(-90)" font-size="8.82" text-anchor="end" fill="#3a1814">p21Cip1-Thr145/p21Cip1</text>
<text transform="translate(647.9 722) rotate(-90)" font-size="8.82" text-anchor="end" fill="#3a1814">p53-Ser315/p53</text>
<text transform="translate(661.6 722) rotate(-90)" font-size="8.82" text-anchor="end" fill="#3a1814">p53-Ser33/p53</text>
<text transform="translate(673.6 722) rotate(-90)" font-size="8.82" text-anchor="end" fill="#3a1814">p95(NSB1)-Ser343/p95</text>
<text x="503.9" y="835.4" font-size="10.3" text-anchor="start" fill="#3a1814">Phosphoprotein/non-phophoprotein</text>
<text transform="translate(449.5 629.6) rotate(-90)" font-size="8.85" text-anchor="middle" fill="#3a1814">Phophoprotein/non-phophoprotein ratio</text>
<text transform="translate(460.2 629.9) rotate(-90)" font-size="8.85" text-anchor="middle" fill="#3a1814">(siMCM3/siControl)</text>
</svg></body></html>
